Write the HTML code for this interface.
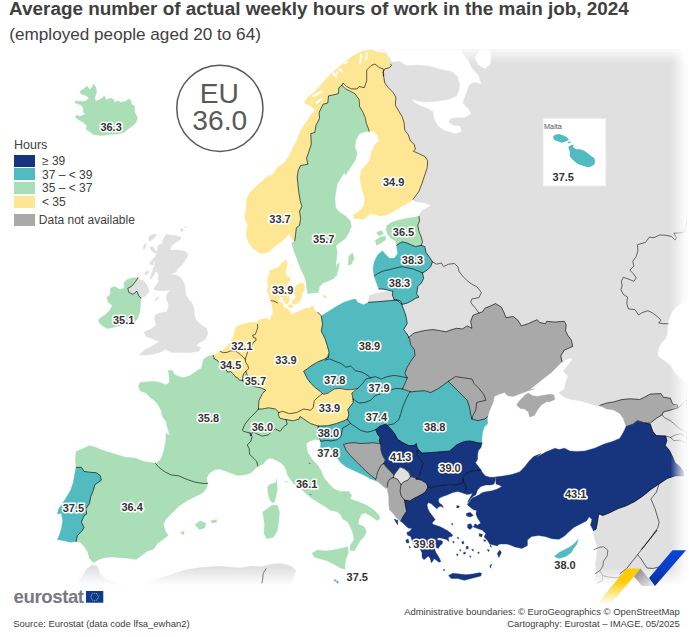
<!DOCTYPE html>
<html><head><meta charset="utf-8"><title>Map</title>
<style>
html,body{margin:0;padding:0;background:#fff;}
body{width:689px;height:637px;position:relative;overflow:hidden;font-family:"Liberation Sans",sans-serif;color:#404040;}
#map{position:absolute;left:0;top:0;width:689px;height:637px;}
.t{position:absolute;white-space:nowrap;}
#title{left:9.1px;top:-2.3px;font-size:18.9px;font-weight:bold;line-height:22px;color:#404040;}
#sub{left:9.3px;top:23.6px;font-size:17.15px;line-height:20px;color:#404040;}
.lg{position:absolute;left:14px;width:21px;height:12.2px;}
.lt{position:absolute;left:42px;font-size:12px;line-height:12px;margin-top:0.3px;color:#404040;white-space:nowrap;}
.foot{position:absolute;font-size:9.45px;line-height:11px;color:#404040;white-space:nowrap;}
svg text{font-family:"Liberation Sans",sans-serif;}
.lab{font-size:11px;font-weight:bold;fill:#333;stroke:#fff;stroke-width:3.2px;paint-order:stroke;stroke-linejoin:round;text-anchor:middle;}
</style></head><body>
<svg id="map" width="689" height="637" viewBox="0 0 689 637">
<defs>
<linearGradient id="ft" x1="0" y1="0" x2="0" y2="1"><stop offset="0" stop-color="#fff" stop-opacity="1"/><stop offset="1" stop-color="#fff" stop-opacity="0"/></linearGradient>
<linearGradient id="fb" x1="0" y1="1" x2="0" y2="0"><stop offset="0" stop-color="#fff" stop-opacity="1"/><stop offset="1" stop-color="#fff" stop-opacity="0"/></linearGradient>
<linearGradient id="fr" x1="1" y1="0" x2="0" y2="0"><stop offset="0" stop-color="#fff" stop-opacity="1"/><stop offset="1" stop-color="#fff" stop-opacity="0"/></linearGradient>
<linearGradient id="gy" x1="0" y1="0" x2="0" y2="1"><stop offset="0" stop-color="#ffcc00"/><stop offset="0.35" stop-color="#ffcc00"/><stop offset="1" stop-color="#ffcc00" stop-opacity="0"/></linearGradient>
<linearGradient id="gg" x1="0" y1="0" x2="1" y2="1"><stop offset="0" stop-color="#7d7d7d"/><stop offset="1" stop-color="#f2f2f2"/></linearGradient>
<linearGradient id="gb" x1="0" y1="0" x2="0" y2="1"><stop offset="0" stop-color="#0b44d4"/><stop offset="0.5" stop-color="#0a3ec8"/><stop offset="1" stop-color="#0a2d96"/></linearGradient>
<clipPath id="mc"><rect x="0" y="49.5" width="689" height="538"/></clipPath>
</defs>
<g clip-path="url(#mc)">
<path d="M378 40 L380 90 L390 130 L400 170 L410 195 L413.0 199.4 L415.4 201.8 L424.8 203.0 L431.4 205.3 L427.2 207.7 L421.3 211.2 L418.9 215.9 L412 225 L408 260 L400 285 L392 291 L390.7 290.6 L377.8 293.0 L369.5 295.3 L368.3 302.4 L377.8 302.9 L389.5 301.9 L398 320 L420 350 L470 345 L555 350 L562.0 361.8 L570.2 357.8 L572.6 359.5 L567.9 365.3 L563.2 371.2 L567.9 375.9 L565.5 383.0 L564.3 388.9 L559.6 392.4 L559.6 393.6 L564.3 397.2 L571.4 399.5 L579.7 400.7 L587.9 403.0 L596.2 405.4 L599.7 406.6 L635 410 L640 450 L610 500 L596 525 L593.3 530.5 L594.6 538.8 L597.4 547.0 L596.6 555.2 L595.5 563.4 L596.0 571.7 L594.6 579.9 L596.0 584.0 L596 595 L700 595 L700 40Z" fill="#e0e0e0" stroke="#e0e0e0" stroke-width="0.4" stroke-linejoin="round"/>
<path d="M380 40 L392.4 61.8 L399.7 60.9 L406.9 65.5 L417.1 64.7 L428.7 65.5 L440.3 69.0 L451.9 71.3 L457.7 76.3 L460.0 83.5 L459.2 90.8 L456.3 96.6 L449.0 99.5 L437.4 101.5 L425.8 102.4 L417.1 101.0 L412.7 99.5 L415.4 103.0 L420.1 105.4 L427.2 107.7 L433.1 111.3 L434.3 118.3 L437.8 125.4 L443.7 130.1 L448.4 131.3 L455.5 133.6 L461.3 131.3 L460.2 126.6 L453.1 125.4 L448.4 121.9 L450.7 118.3 L457.8 117.2 L464.9 117.2 L470.8 113.6 L468.4 108.9 L462.5 103.0 L463.5 99.5 L466.4 92.2 L468.8 85.0 L473.7 82.1 L480.9 83.5 L478.0 74.8 L472.2 69.0 L467.9 60.3 L462.1 53.1 L460 40Z" fill="#fff" stroke="#fff" stroke-width="0.4" stroke-linejoin="round"/>
<path d="M475.1 57.4 L478.0 64.7 L485.3 68.4 L489.7 64.7 L491.1 57.4 L489.7 50.2 L480.9 48.7Z" fill="#fff" stroke="#fff" stroke-width="0.4" stroke-linejoin="round"/>
<path d="M700 301.3 L682.2 303.7 L676.3 307.2 L671.6 313.1 L668 323.7 L668 332 L665.7 339 L661 343.7 L658.6 350.1 L658.1 355.9 L664.5 360.6 L670.4 365.3 L675.1 372.4 L682.2 379.5 L700 384.2Z" fill="#fff" stroke="#fff" stroke-width="0.4" stroke-linejoin="round"/>
<path d="M77.4 584.9 L86.7 568.9 L92.1 564.9 L97.4 566.2 L100.1 574.2 L106.8 579.6 L120.1 583.6 L136.2 584.9 L152.2 580.9 L168.2 575.6 L184.2 570.2 L200.3 567.6 L220.0 566.2 L240.0 568.0 L250.7 566.1 L261.3 566.7 L272.0 564.0 L282.7 563.5 L292.0 566.7 L296.0 570.7 L293.3 577.3 L289.3 590.7 L60 640Z" fill="#e0e0e0" stroke="#e0e0e0" stroke-width="0.4" stroke-linejoin="round"/>
<rect x="0" y="46" width="689" height="17" fill="url(#ft)"/><rect x="0" y="567.5" width="689" height="18" fill="url(#fb)"/><rect x="0" y="585" width="689" height="52" fill="#fff"/>
<path d="M166.4 234.6 L171.4 235.2 L176.5 235.8 L180.9 237.1 L180.2 239.6 L176.5 242.1 L172.7 244.6 L170.8 247.1 L170.2 250.3 L175.2 249.9 L180.2 250.3 L185.3 251.5 L188.0 253.4 L187.1 257.2 L184.6 260.9 L182.7 264.1 L180.2 266.6 L177.7 269.1 L174.0 270.4 L177.7 270.4 L175.2 272.2 L172.7 273.5 L169.6 273.5 L172.7 274.7 L177.1 275.4 L180.2 277.3 L182.7 280.4 L184.6 284.8 L185.3 289.8 L185.9 294.8 L189.0 299.9 L191.5 302.0 L194.1 308.7 L194.1 313.8 L196.1 319.9 L201.2 325.0 L206.3 328.1 L208.0 333.2 L205.3 339.3 L200.2 342.3 L196.1 345.4 L201.2 347.4 L198.2 351.5 L190.0 352.6 L181.8 352.6 L171.6 352.6 L165.5 349.5 L159.4 352.6 L149.2 355.0 L139.0 355.0 L145.1 349.5 L153.3 345.4 L159.4 341.3 L153.3 339.3 L146.1 336.2 L144.1 332.1 L151.2 329.1 L156.3 325.0 L154.3 318.9 L155.3 314.8 L160.4 312.8 L166.5 311.7 L168.6 306.6 L167.6 300.5 L167.0 302.0 L166.2 298.6 L166.4 295.5 L168.3 292.3 L170.8 290.4 L167.7 290.4 L163.9 290.4 L160.1 291.1 L157.0 290.4 L153.9 289.2 L154.5 287.3 L157.0 284.2 L158.9 281.0 L157.6 278.5 L158.9 276.0 L158.3 273.5 L155.7 271.6 L154.5 274.1 L152.6 277.3 L150.1 279.8 L150.7 276.0 L152.0 272.2 L153.2 269.1 L154.5 265.3 L155.1 262.2 L151.4 260.9 L152.6 259.0 L155.1 257.2 L156.4 254.0 L157.0 250.9 L157.6 247.1 L158.9 244.6 L162.0 244.0 L162.7 240.8 L163.9 237.7Z" fill="#e0e0e0" stroke="#e0e0e0" stroke-width="0.4" stroke-linejoin="round"/>
<path d="M148.8 237.1 L151.4 234.6 L155.7 233.9 L156.4 235.8 L153.2 239.0 L150.1 241.5 L148.6 240.2Z" fill="#e0e0e0" stroke="#e0e0e0" stroke-width="0.4" stroke-linejoin="round"/>
<path d="M143.8 244.6 L146.3 243.4 L145.7 247.1 L143.8 250.3 L143.2 249.0Z" fill="#e0e0e0" stroke="#e0e0e0" stroke-width="0.4" stroke-linejoin="round"/>
<path d="M149.5 247.1 L152.6 246.5 L154.5 249.0 L156.4 251.5 L155.1 253.4 L153.2 252.1 L151.4 250.3Z" fill="#e0e0e0" stroke="#e0e0e0" stroke-width="0.4" stroke-linejoin="round"/>
<path d="M149.5 262.2 L152.0 260.9 L153.9 262.8 L153.2 265.3 L150.1 264.7Z" fill="#e0e0e0" stroke="#e0e0e0" stroke-width="0.4" stroke-linejoin="round"/>
<path d="M144.4 272.9 L147.6 271.0 L149.5 271.6 L147.6 274.1 L145.7 275.4Z" fill="#e0e0e0" stroke="#e0e0e0" stroke-width="0.4" stroke-linejoin="round"/>
<path d="M180.2 230.2 L182.1 228.3 L183.4 229.5 L182.1 232.0Z" fill="#e0e0e0" stroke="#e0e0e0" stroke-width="0.4" stroke-linejoin="round"/>
<path d="M184.6 227.0 L186.5 226.4 L185.9 228.3Z" fill="#e0e0e0" stroke="#e0e0e0" stroke-width="0.4" stroke-linejoin="round"/>
<path d="M154.5 299.9 L158.3 296.7 L158.9 298.0 L156.4 300.5Z" fill="#e0e0e0" stroke="#e0e0e0" stroke-width="0.4" stroke-linejoin="round"/>
<path d="M138.0 277.7 L135.9 281.1 L131.8 286.2 L127.8 288.3 L128.8 292.3 L132.9 294.4 L136.9 291.3 L139.0 296.4 L141.0 298.1 L146.1 295.4 L149.2 291.3 L147.1 285.2 L144.1 281.1 L140.0 279.7Z" fill="#e0e0e0" stroke="#e0e0e0" stroke-width="0.4" stroke-linejoin="round"/>
<path d="M138.0 277.7 L135.9 281.1 L131.8 286.2 L127.8 288.3 L128.8 292.3 L132.9 294.4 L136.9 291.3 L139.0 296.4 L141.0 298.1 L140.6 303.6 L140.0 310.7 L138.0 317.9 L133.9 323.0 L127.8 325.0 L120.6 325.4 L114.5 327.0 L107.3 328.7 L101.2 325.0 L98.2 320.9 L100.2 317.9 L105.3 314.8 L109.4 310.7 L112.4 305.6 L108.4 302.6 L106.7 297.4 L110.4 294.4 L110.4 288.3 L114.5 286.6 L119.6 289.3 L124.7 288.3 L123.7 283.2 L126.7 279.7 L131.8 278.1Z" fill="#a9deb6" stroke="#a9deb6" stroke-width="0.4" stroke-linejoin="round"/>
<path d="M80.3 91.0 L83.9 88.9 L86.9 85.7 L89.8 89.6 L91.9 87.4 L93.7 84.1 L96.0 87.4 L96.6 92.5 L94.8 97.6 L95.6 101.2 L99.2 99.8 L102.1 98.3 L104.3 95.8 L106.4 99.8 L110.8 98.0 L113.7 99.8 L114.9 102.7 L117.3 100.8 L121.0 102.2 L125.3 101.6 L128.9 99.0 L131.1 100.8 L131.4 104.1 L134.7 106.3 L134.7 112.1 L137.6 117.9 L136.2 122.2 L132.6 125.9 L128.2 128.8 L123.9 132.4 L118.1 133.9 L109.3 134.6 L100.6 135.6 L93.4 134.6 L89.0 131.0 L86.1 129.5 L86.9 125.9 L83.2 122.2 L78.9 120.1 L75.2 117.2 L76.7 115.0 L79.6 116.4 L85.4 114.3 L83.2 112.1 L83.2 107.7 L80.3 104.8 L75.2 103.1 L75.2 100.9 L79.6 101.2 L85.4 101.2 L89.0 98.3 L86.9 96.1 L83.2 94.7 L80.3 93.2Z" fill="#a9deb6" stroke="#a9deb6" stroke-width="0.4" stroke-linejoin="round"/>
<path d="M390.7 64.1 L388.3 59.4 L385.9 53.5 L377.7 52.4 L373.0 50.0 L370.6 45.3 L369.0 45.3 L369.0 50.0 L362.0 51.2 L354.9 54.7 L346.6 60.6 L339.6 66.5 L332.5 72.4 L326.6 78.3 L320.7 85.3 L313.6 92.4 L307.8 97.1 L304.2 103.0 L310.1 105.4 L314.8 108.9 L311.3 114.8 L305.4 123.0 L300.7 130.1 L297.2 139.5 L293.6 146.6 L288.9 156.0 L284.2 163.1 L277.1 167.8 L273.6 173.7 L267.7 177.2 L268.9 174.7 L263.0 180.6 L255.9 186.5 L250.0 192.4 L246.5 199.5 L246.0 208.9 L244.6 217.1 L247.7 225.4 L246.0 234.8 L248.9 243.0 L253.6 248.9 L260.6 253.6 L267.7 252.5 L273.6 247.8 L279.5 243.0 L285.4 238.3 L288.9 233.6 L292.4 239.5 L294.8 240.7 L295.5 234.8 L296.4 227.7 L299.5 225.4 L300.7 218.3 L299.5 211.2 L301.9 206.5 L300.2 200.6 L298.8 192.4 L297.9 184.1 L297.2 177.1 L298.3 170.2 L300.7 165.5 L307.8 164.3 L306.6 158.4 L308.9 151.3 L311.3 144.3 L310.8 133.6 L314.8 132.5 L316.0 125.4 L319.5 118.3 L319.1 112.4 L323.1 104.2 L327.8 103.0 L328.5 95.9 L333.7 94.8 L338.4 93.6 L338.9 87.7 L341.9 85.3 L343.1 83.0 L346.6 86.5 L351.3 88.9 L357.2 88.9 L359.1 86.5 L364.3 87.7 L366.7 80.6 L366.7 70.0 L371.4 65.3 L374.9 64.1 L379.6 67.7 L383.2 68.9 L383.6 73.6 L383.6 75.9 L382.9 72.4 L384.8 68.9 L389.5 67.7 L391.4 65.3 L390.7 64.1Z" fill="#fee794" stroke="#fee794" stroke-width="0.4" stroke-linejoin="round"/>
<path d="M359.4 64.3 L360.2 54.5 L361.8 53.8 L360.8 62.5Z" fill="#fff" stroke="#fff" stroke-width="0.4" stroke-linejoin="round"/>
<path d="M365.2 60.3 L366.1 53.1 L367.6 52.6 L366.6 59.6Z" fill="#fff" stroke="#fff" stroke-width="0.4" stroke-linejoin="round"/>
<path d="M332.1 73.4 L336.2 78.2 L337.9 71.9 L336.7 71.2 L335.7 74.9 L333.5 71.9Z" fill="#fff" stroke="#fff" stroke-width="0.4" stroke-linejoin="round"/>
<path d="M338.6 69.8 L342.2 72.7 L343.0 71.2 L340.1 68.3Z" fill="#fff" stroke="#fff" stroke-width="0.4" stroke-linejoin="round"/>
<path d="M311.8 95.9 L321.2 90.8 L323.4 91.5 L313.9 97.3Z" fill="#fff" stroke="#fff" stroke-width="0.4" stroke-linejoin="round"/>
<path d="M315.4 102.4 L321.2 98.1 L322.7 99.1 L316.9 103.9Z" fill="#fff" stroke="#fff" stroke-width="0.4" stroke-linejoin="round"/>
<path d="M343.7 63.2 L347.3 61.1 L348.1 62.2 L344.9 64.3Z" fill="#fff" stroke="#fff" stroke-width="0.4" stroke-linejoin="round"/>
<path d="M308.9 113.3 L313.2 109.7 L314.4 110.4 L310.3 114.5Z" fill="#fff" stroke="#fff" stroke-width="0.4" stroke-linejoin="round"/>
<path d="M294.8 240.7 L291.7 243.0 L293.6 250.1 L297.2 259.5 L300.7 269.0 L304.2 276.0 L305.9 280.7 L306.6 287.8 L307.8 293.7 L312.5 293.0 L318.4 292.5 L319.5 286.6 L323.1 283.1 L329.0 280.7 L333.7 278.4 L336.5 271.3 L336.0 263.1 L337.2 252.5 L336.0 245.4 L340.7 241.9 L345.5 238.3 L349.0 232.4 L351.3 226.6 L350.2 220.7 L345.5 215.9 L339.6 212.4 L335.6 207.7 L334.9 198.3 L336.0 191.2 L337.2 184.1 L340.7 178.2 L344.3 172.4 L345.5 174.9 L350.2 167.8 L354.9 160.7 L357.2 153.7 L354.9 146.6 L356.1 139.5 L359.6 133.6 L364.3 132.0 L369.0 131.3 L369.0 130.1 L366.2 123.0 L365.5 118.3 L363.1 112.4 L359.6 106.6 L359.1 99.5 L354.9 93.6 L350.2 91.2 L345.5 88.9 L341.9 85.3 L338.9 87.7 L338.4 93.6 L333.7 94.8 L328.5 95.9 L327.8 103.0 L323.1 104.2 L319.1 112.4 L319.5 118.3 L316.0 125.4 L314.8 132.5 L310.8 133.6 L311.3 144.3 L308.9 151.3 L306.6 158.4 L307.8 164.3 L300.7 165.5 L298.3 170.2 L297.2 177.1 L297.9 184.1 L298.8 192.4 L300.2 200.6 L301.9 206.5 L299.5 211.2 L300.7 218.3 L299.5 225.4 L296.4 227.7 L295.5 234.8 L294.8 240.7Z" fill="#a9deb6" stroke="#a9deb6" stroke-width="0.4" stroke-linejoin="round"/>
<path d="M337.2 264.3 L339.6 263.1 L336.5 276.0 L334.9 277.2Z" fill="#a9deb6" stroke="#a9deb6" stroke-width="0.4" stroke-linejoin="round"/>
<path d="M349.0 256.0 L352.5 252.9 L354.2 258.4 L351.3 264.3 L348.3 265.4Z" fill="#a9deb6" stroke="#a9deb6" stroke-width="0.4" stroke-linejoin="round"/>
<path d="M341.9 85.3 L345.5 88.9 L350.2 91.2 L354.9 93.6 L359.1 99.5 L359.6 106.6 L363.1 112.4 L365.5 118.3 L366.2 123.0 L369.0 130.1 L369.0 131.3 L369.5 131.3 L374.2 131.3 L377.7 136.0 L378.9 140.7 L375.3 144.3 L371.8 151.3 L369.5 160.7 L364.7 166.6 L361.2 170.2 L360.0 178.4 L361.2 186.7 L363.6 194.9 L363.6 190.0 L364.7 199.4 L363.6 206.5 L357.7 212.4 L353.0 214.7 L354.1 218.3 L363.6 219.5 L370.6 213.6 L380.1 215.9 L387.1 214.7 L394.2 211.2 L401.3 206.5 L408.3 203.0 L413.0 199.4 L418.9 191.4 L422.5 182.0 L424.8 174.9 L427.2 167.8 L427.7 160.7 L424.8 156.5 L418.9 153.7 L413.5 151.3 L415.4 149.0 L414.2 144.3 L410.2 140.7 L408.3 134.8 L404.8 130.1 L404.1 123.0 L402.4 117.2 L398.9 111.3 L395.4 105.4 L395.8 97.1 L393.0 92.4 L388.3 87.7 L384.8 83.0 L383.6 75.9 L383.6 75.9 L383.6 73.6 L383.2 68.9 L379.6 67.7 L374.9 64.1 L371.4 65.3 L366.7 70.0 L366.7 80.6 L364.3 87.7 L359.1 86.5 L357.2 88.9 L351.3 88.9 L346.6 86.5 L343.1 83.0Z" fill="#fee794" stroke="#fee794" stroke-width="0.4" stroke-linejoin="round"/>
<path d="M286.7 259.9 L283.2 261.6 L280.3 265.1 L277.4 268.0 L272.8 269.2 L269.9 270.3 L269.3 275.0 L268.1 276.7 L267.5 281.3 L268.1 287.2 L267.0 290.6 L268.7 295.3 L269.9 299.3 L271.0 300.7 L273.9 301.1 L277.4 302.8 L278.6 299.3 L279.7 296.4 L282.6 297.6 L285.0 295.3 L286.1 289.5 L286.7 284.8 L287.9 282.5 L290.4 280.8 L290.2 277.9 L287.3 276.7 L285.5 273.2 L286.1 268.6 L287.3 263.9Z" fill="#fee794" stroke="#fee794" stroke-width="0.4" stroke-linejoin="round"/>
<path d="M283.2 295.9 L286.1 294.7 L289.0 295.9 L289.6 299.3 L288.4 302.8 L286.7 304.6 L284.4 302.2 L282.6 299.3Z" fill="#fee794" stroke="#fee794" stroke-width="0.4" stroke-linejoin="round"/>
<path d="M294.8 287.2 L297.2 284.8 L300.6 283.1 L303.5 283.7 L304.7 287.2 L304.1 290.6 L302.4 293.0 L301.8 296.4 L300.6 299.9 L298.3 302.8 L294.8 304.6 L292.5 303.4 L291.9 301.1 L294.8 299.3 L296.0 296.4 L294.3 294.1 L293.7 290.6Z" fill="#fee794" stroke="#fee794" stroke-width="0.4" stroke-linejoin="round"/>
<path d="M287.9 305.7 L291.3 304.6 L293.7 306.3 L291.3 308.1 L288.4 307.5Z" fill="#fee794" stroke="#fee794" stroke-width="0.4" stroke-linejoin="round"/>
<path d="M323.3 294.7 L325.0 295.3 L326.8 297.0 L325.6 298.2 L323.6 297.0Z" fill="#fee794" stroke="#fee794" stroke-width="0.4" stroke-linejoin="round"/>
<path d="M290.4 265.1 L291.6 264.9 L291.3 266.3Z" fill="#fee794" stroke="#fee794" stroke-width="0.4" stroke-linejoin="round"/>
<path d="M387.1 225.3 L393.0 221.8 L401.3 219.5 L410.7 217.8 L418.9 216.4 L419.6 220.6 L417.8 225.3 L418.9 231.2 L421.3 237.1 L422.5 241.8 L421.3 245.4 L415.4 246.6 L410.7 244.7 L407.2 243.0 L402.4 241.8 L398.9 243.7 L396.6 245.4 L395.4 240.7 L390.7 238.3 L387.1 233.6 L385.9 228.9Z" fill="#a9deb6" stroke="#a9deb6" stroke-width="0.4" stroke-linejoin="round"/>
<path d="M376.5 232.4 L381.2 230.5 L383.6 233.6 L378.9 235.9Z" fill="#a9deb6" stroke="#a9deb6" stroke-width="0.4" stroke-linejoin="round"/>
<path d="M375.3 240.7 L380.1 237.1 L385.2 235.9 L385.9 239.5 L381.2 243.0 L376.5 245.4Z" fill="#a9deb6" stroke="#a9deb6" stroke-width="0.4" stroke-linejoin="round"/>
<path d="M396.6 245.4 L398.9 243.7 L402.4 241.8 L407.2 243.0 L410.7 244.7 L415.4 246.6 L421.3 245.4 L424.8 246.6 L426.0 252.4 L429.5 257.2 L432.4 261.9 L430.7 266.6 L427.2 270.1 L422.5 272.9 L418.9 271.3 L413.0 268.9 L407.2 267.8 L402.4 266.6 L396.6 267.8 L389.5 269.6 L382.4 271.3 L377.7 273.6 L374.2 276.0 L373.0 268.9 L374.2 261.9 L377.7 254.8 L382.4 250.8 L385.9 254.8 L389.5 258.3 L394.2 258.3 L397.7 253.6 L397.0 248.9Z" fill="#51bbc0" stroke="#51bbc0" stroke-width="0.4" stroke-linejoin="round"/>
<path d="M374.2 276.0 L377.7 273.6 L382.4 271.3 L389.5 269.6 L396.6 267.8 L402.4 266.6 L407.2 267.8 L413.0 268.9 L418.9 271.3 L422.5 272.9 L423.6 278.4 L421.3 283.1 L417.8 286.6 L416.6 293.7 L418.9 297.2 L415.4 298.4 L411.9 300.7 L407.2 303.1 L402.4 304.3 L400.1 300.7 L394.2 299.6 L392.3 294.9 L393.0 291.3 L388.3 290.1 L382.4 289.0 L378.9 289.0 L376.5 283.1Z" fill="#51bbc0" stroke="#51bbc0" stroke-width="0.4" stroke-linejoin="round"/>
<path d="M257.5 324.4 L258.4 320.0 L260.1 319.5 L266.0 318.3 L270.7 320.6 L270.4 317.3 L272.2 315.0 L272.8 310.4 L271.6 304.6 L271.0 300.7 L273.9 301.1 L277.4 302.8 L280.3 301.7 L283.2 303.4 L283.2 306.9 L286.7 308.6 L290.2 311.5 L291.3 314.4 L296.0 312.7 L300.6 310.4 L305.3 308.6 L309.9 308.1 L311.7 305.7 L314.0 306.9 L314.6 310.4 L317.8 312.4 L321.3 315.9 L322.5 324.2 L321.3 331.2 L324.9 338.3 L327.2 345.4 L329.1 352.4 L328.4 357.2 L323.7 359.5 L317.8 361.9 L311.9 365.4 L307.2 368.9 L303.7 371.3 L307.2 378.4 L310.7 383.1 L315.5 387.8 L320.2 391.3 L322.5 393.7 L317.8 397.2 L314.3 400.7 L313.1 407.8 L310.7 410.2 L303.7 409.0 L296.6 412.5 L289.5 413.7 L282.5 411.3 L278.9 412.5 L275.4 409.0 L268.3 407.8 L262.4 409.0 L258.4 409.0 L258.9 400.7 L262.4 393.7 L265.7 390.0 L260.3 387.8 L254.6 386.6 L248.3 384.7 L249.2 381.6 L249.0 377.8 L247.1 374.7 L245.8 371.5 L247.1 370.3 L248.7 368.4 L247.7 365.2 L245.8 362.7 L245.2 359.0 L246.4 355.8 L247.4 352.7 L248.3 350.2 L252.1 345.1 L253.4 342.0 L255.9 340.7 L255.9 338.2 L253.4 337.6 L252.7 335.1 L255.2 334.5 L256.5 331.3 L257.7 327.6 L257.5 324.4Z" fill="#fee794" stroke="#fee794" stroke-width="0.4" stroke-linejoin="round"/>
<path d="M220.1 351.4 L223.8 349.5 L226.4 346.4 L229.5 343.3 L233.3 336.4 L235.1 330.1 L237.0 326.3 L241.4 324.4 L246.4 323.2 L252.1 321.9 L256.5 322.5 L257.5 324.4 L257.7 327.6 L256.5 331.3 L255.2 334.5 L252.7 335.1 L253.4 337.6 L255.9 338.2 L255.9 340.7 L253.4 342.0 L252.1 345.1 L248.3 350.2 L247.4 352.7 L246.4 355.8 L245.2 359.0 L243.3 357.1 L240.8 355.2 L238.3 352.7 L235.8 351.2 L230.7 350.8 L227.0 352.4 L223.2 352.7 L220.1 351.4Z" fill="#fee794" stroke="#fee794" stroke-width="0.4" stroke-linejoin="round"/>
<path d="M213.2 355.2 L216.9 353.3 L220.1 351.4 L223.2 352.7 L227.0 352.4 L230.7 350.8 L235.8 351.2 L238.3 352.7 L240.8 355.2 L243.3 357.1 L245.2 359.0 L245.8 362.7 L247.7 365.2 L248.7 368.4 L247.1 370.3 L245.8 371.5 L243.9 373.4 L242.7 376.5 L242.7 380.3 L239.5 380.3 L238.3 378.4 L235.1 376.5 L233.3 374.0 L230.7 371.5 L227.6 372.1 L225.7 369.0 L222.6 366.5 L219.4 363.4 L217.6 360.5 L214.4 359.0 L213.2 355.2Z" fill="#fee794" stroke="#fee794" stroke-width="0.4" stroke-linejoin="round"/>
<path d="M242.7 380.3 L242.7 376.5 L243.9 373.4 L245.8 371.5 L247.1 374.7 L249.0 377.8 L249.2 381.6 L248.3 384.7 L245.8 383.8 L243.3 382.2 L242.7 380.3Z" fill="#a9deb6" stroke="#a9deb6" stroke-width="0.4" stroke-linejoin="round"/>
<path d="M368.3 302.4 L363.6 304.7 L357.7 302.4 L355.4 298.9 L350.7 300.0 L343.6 302.4 L335.3 307.1 L325.9 313.0 L321.3 315.9 L322.5 324.2 L321.3 331.2 L324.9 338.3 L327.2 345.4 L329.1 352.4 L324.7 360.1 L329.5 358.9 L335.3 361.3 L341.2 363.6 L345.9 367.2 L350.7 366.0 L355.4 370.7 L361.3 371.9 L366.0 374.3 L370.7 377.8 L375.4 376.6 L381.3 379.0 L387.2 376.6 L394.3 375.4 L401.3 376.6 L407.2 377.8 L404.9 373.1 L407.2 367.2 L410.7 361.3 L415.0 355.4 L414.3 349.5 L410.7 344.8 L409.6 338.9 L407.2 334.2 L403.7 329.5 L407.2 323.6 L406.0 316.5 L403.7 309.5 L401.3 303.6 L396.6 300.0 L389.5 300.7 L377.8 301.7 L368.3 302.4Z" fill="#51bbc0" stroke="#51bbc0" stroke-width="0.4" stroke-linejoin="round"/>
<path d="M324.7 360.1 L329.5 358.9 L335.3 361.3 L341.2 363.6 L345.9 367.2 L350.7 366.0 L355.4 370.7 L361.3 371.9 L366.0 374.3 L370.7 377.8 L366.0 379.0 L362.4 383.7 L357.7 388.4 L351.8 389.6 L345.9 389.6 L340.1 388.4 L334.2 388.9 L328.3 393.1 L323.6 394.3 L320.2 391.3 L315.5 387.8 L310.7 383.1 L307.2 378.4 L303.7 371.3 L307.2 368.9 L311.9 365.4 L317.8 361.9 L323.7 359.5Z" fill="#51bbc0" stroke="#51bbc0" stroke-width="0.4" stroke-linejoin="round"/>
<path d="M370.7 377.8 L375.4 376.6 L381.3 379.0 L387.2 376.6 L394.3 375.4 L401.3 376.6 L407.2 377.8 L404.9 383.7 L402.5 388.9 L395.4 388.4 L389.5 390.7 L382.5 393.1 L375.4 395.5 L370.7 400.2 L364.8 402.5 L358.9 403.0 L353.0 399.0 L351.8 393.1 L357.7 388.4 L362.4 383.7 L366.0 379.0 L370.7 377.8Z" fill="#51bbc0" stroke="#51bbc0" stroke-width="0.4" stroke-linejoin="round"/>
<path d="M323.6 394.3 L328.3 393.1 L334.2 388.9 L340.1 388.4 L345.9 389.6 L351.8 389.6 L357.7 388.4 L351.8 393.1 L353.0 399.0 L353.1 402.6 L350.5 406.1 L347.9 409.6 L348.8 414.8 L347.4 419.2 L343.5 420.9 L336.6 423.5 L327.9 425.8 L318.3 426.1 L310.4 423.5 L305.2 420.0 L300.0 416.5 L299.0 419.1 L293.1 420.8 L286.0 419.6 L280.1 418.4 L278.2 414.9 L278.9 412.5 L282.5 411.3 L289.5 413.7 L296.6 412.5 L303.7 409.0 L310.7 410.2 L313.1 407.8 L314.3 400.7 L317.8 397.2 L322.5 393.7Z" fill="#fee794" stroke="#fee794" stroke-width="0.4" stroke-linejoin="round"/>
<path d="M258.4 409.0 L262.4 409.0 L268.3 407.8 L275.4 409.0 L278.9 412.5 L278.2 414.9 L280.1 418.4 L286.0 419.6 L287.2 424.3 L283.6 426.7 L280.1 431.4 L275.4 429.0 L271.9 431.4 L268.3 434.9 L262.4 436.1 L256.6 433.7 L253.0 431.4 L250.7 436.1 L250.1 433.1 L243.8 431.4 L242.4 430.2 L244.8 424.3 L249.5 418.4 L255.4 412.5 L258.4 409.0Z" fill="#a9deb6" stroke="#a9deb6" stroke-width="0.4" stroke-linejoin="round"/>
<path d="M402.5 388.9 L395.4 388.4 L389.5 390.7 L382.5 393.1 L375.4 395.5 L370.7 400.2 L364.8 402.5 L358.9 403.0 L353.0 399.0 L353.1 402.6 L350.5 406.1 L347.9 409.6 L348.8 414.8 L347.4 419.2 L350.5 423.5 L355.7 427.0 L361.0 430.5 L367.0 432.2 L371.4 431.3 L375.8 429.6 L380.1 426.1 L385.3 424.4 L387.1 425.3 L393.7 423.9 L398.8 419.8 L400.8 413.7 L402.9 406.5 L405.9 399.4 L410.0 391.8 L410.7 391.9Z" fill="#51bbc0" stroke="#51bbc0" stroke-width="0.4" stroke-linejoin="round"/>
<path d="M347.4 419.2 L343.5 420.9 L336.6 423.5 L327.9 425.8 L318.3 426.1 L317.4 430.5 L318.8 434.8 L320.0 439.2 L320.9 441.4 L326.1 440.4 L331.3 440.9 L337.4 439.7 L340.9 436.6 L341.8 432.2 L342.7 427.9 L346.2 426.1 L350.5 423.5 L347.4 419.2Z" fill="#51bbc0" stroke="#51bbc0" stroke-width="0.4" stroke-linejoin="round"/>
<path d="M350.5 423.5 L355.7 427.0 L361.0 430.5 L367.0 432.2 L371.4 431.3 L375.8 429.6 L377.5 434.0 L380.1 437.4 L379.2 440.9 L380.5 443.5 L378.4 443.5 L373.1 442.7 L367.9 443.2 L361.0 443.5 L354.0 442.7 L347.9 443.2 L343.5 444.4 L346.2 450.5 L350.5 455.7 L355.7 461.0 L361.0 466.2 L366.2 471.4 L371.4 475.8 L375.8 479.2 L376.6 481.2 L373.1 479.8 L369.7 478.4 L365.3 475.8 L359.2 473.1 L352.2 469.7 L346.2 467.0 L340.9 462.7 L337.4 458.3 L334.8 454.0 L331.3 449.6 L328.7 446.2 L326.1 447.9 L323.5 451.4 L321.8 453.1 L320.0 448.8 L320.6 444.9 L320.9 441.4 L326.1 440.4 L331.3 440.9 L337.4 439.7 L340.9 436.6 L341.8 432.2 L342.7 427.9 L346.2 426.1Z" fill="#51bbc0" stroke="#51bbc0" stroke-width="0.4" stroke-linejoin="round"/>
<path d="M213.1 355.3 L208.4 356.0 L203.6 358.9 L202.5 363.6 L201.3 368.3 L195.4 371.8 L190.7 375.3 L183.6 377.7 L178.9 376.5 L174.2 374.2 L172.3 370.6 L168.3 370.2 L169.0 375.3 L169.5 382.4 L165.9 384.8 L160.1 382.4 L153.0 381.2 L145.9 381.9 L140.0 382.4 L138.4 385.9 L140.0 390.7 L145.9 393.0 L150.6 397.7 L155.3 401.3 L158.9 406.0 L161.2 410.7 L162.4 416.6 L165.9 421.3 L167.1 426.0 L168.3 430.7 L169.5 435.4 L165.9 433.1 L165.9 440.1 L164.3 448.4 L162.4 455.5 L160.1 460.2 L155.3 463.7 L158.9 467.4 L164.2 471.4 L170.9 474.9 L178.9 475.9 L186.9 479.4 L194.9 482.1 L202.9 483.4 L207.5 483.4 L206.7 477.8 L209.5 473.1 L214.3 470.1 L219.0 469.1 L224.9 470.8 L230.7 473.1 L237.8 475.5 L244.9 474.8 L250.8 473.1 L255.5 468.4 L257.8 466.1 L256.7 461.3 L253.1 457.8 L249.6 454.3 L249.1 448.4 L247.2 444.9 L250.8 441.3 L252.0 436.6 L250.1 433.1 L258.4 409.0 L255.4 412.5 L249.5 418.4 L244.8 424.3 L242.4 430.2 L243.8 431.4 L258.4 409.0 L258.9 400.7 L262.4 393.7 L265.7 390.0 L260.3 387.8 L254.6 386.6 L248.3 384.7 L245.8 383.8 L243.3 382.2 L242.7 380.3 L239.5 380.3 L238.3 378.4 L235.1 376.5 L233.3 374.0 L230.7 371.5 L227.6 372.1 L225.7 369.0 L222.6 366.5 L219.4 363.4 L217.6 360.5 L214.4 359.0 L213.2 355.2Z" fill="#a9deb6" stroke="#a9deb6" stroke-width="0.4" stroke-linejoin="round"/>
<path d="M267.6 487.1 L269.5 484.6 L273.2 483.3 L275.7 482.7 L276.4 478.9 L277.0 483.3 L277.4 488.4 L276.6 493.4 L275.7 497.8 L274.5 502.2 L272.6 502.8 L270.1 500.3 L268.8 496.5 L267.8 492.1Z" fill="#a9deb6" stroke="#a9deb6" stroke-width="0.4" stroke-linejoin="round"/>
<path d="M285.2 481.4 L287.4 481.2 L287.0 482.4Z" fill="#a9deb6" stroke="#a9deb6" stroke-width="0.4" stroke-linejoin="round"/>
<path d="M76.1 467.4 L75.3 459.4 L76.1 451.4 L82.7 448.7 L89.4 445.5 L96.1 447.4 L104.1 450.8 L114.8 454.0 L125.5 457.2 L134.8 458.0 L144.2 461.5 L152.2 462.6 L155.4 463.4 L158.9 467.4 L164.2 471.4 L170.9 474.9 L178.9 475.9 L186.9 479.4 L194.9 482.1 L202.9 483.4 L207.5 483.4 L206.9 487.4 L202.9 492.8 L194.9 496.8 L186.9 500.8 L178.9 506.1 L172.2 512.8 L165.5 519.5 L163.4 524.8 L165.5 531.5 L168.2 535.5 L162.9 539.5 L157.5 543.5 L153.5 548.9 L146.8 551.5 L141.5 555.5 L136.2 559.5 L128.1 558.2 L120.1 557.7 L112.1 556.9 L104.1 557.7 L98.8 559.5 L93.4 562.7 L89.4 558.2 L87.5 551.5 L84.1 546.2 L80.1 542.2 L76.1 541.6 L77.4 535.5 L81.4 531.5 L84.1 527.5 L81.4 522.1 L84.1 515.5 L86.7 514.1 L85.9 508.8 L89.4 503.5 L90.7 496.8 L93.4 490.1 L94.8 484.8 L101.4 480.2 L100.1 475.4 L96.1 472.7 L89.4 472.2 L84.1 471.4 L81.4 467.4 L76.1 467.4Z" fill="#a9deb6" stroke="#a9deb6" stroke-width="0.4" stroke-linejoin="round"/>
<path d="M194.9 524.8 L200.3 520.8 L206.1 523.5 L204.3 528.3 L199.7 529.4Z" fill="#a9deb6" stroke="#a9deb6" stroke-width="0.4" stroke-linejoin="round"/>
<path d="M210.9 520.8 L216.3 519.5 L216.8 522.1 L212.3 522.9Z" fill="#a9deb6" stroke="#a9deb6" stroke-width="0.4" stroke-linejoin="round"/>
<path d="M180.2 532.8 L184.2 531.0 L183.7 534.7Z" fill="#a9deb6" stroke="#a9deb6" stroke-width="0.4" stroke-linejoin="round"/>
<path d="M76.1 541.6 L77.4 535.5 L81.4 531.5 L84.1 527.5 L81.4 522.1 L84.1 515.5 L86.7 514.1 L85.9 508.8 L89.4 503.5 L90.7 496.8 L93.4 490.1 L94.8 484.8 L101.4 480.2 L100.1 475.4 L96.1 472.7 L89.4 472.2 L84.1 471.4 L81.4 467.4 L76.1 467.4 L74.7 474.1 L73.4 482.1 L70.7 490.1 L66.7 496.8 L62.7 503.5 L58.7 508.8 L57.4 514.1 L61.4 513.3 L62.7 520.8 L61.4 528.8 L59.2 535.5 L57.4 539.5 L64.0 540.8 L70.7 542.2Z" fill="#51bbc0" stroke="#51bbc0" stroke-width="0.4" stroke-linejoin="round"/>
<path d="M257.8 466.1 L256.7 461.3 L253.1 457.8 L249.6 454.3 L249.1 448.4 L247.2 444.9 L250.8 441.3 L252.0 436.6 L250.1 433.1 L250.7 436.1 L253.0 431.4 L256.6 433.7 L262.4 436.1 L268.3 434.9 L271.9 431.4 L275.4 429.0 L280.1 431.4 L283.6 426.7 L287.2 424.3 L286.0 419.6 L293.1 420.8 L299.0 419.1 L300.0 416.5 L305.2 420.0 L310.4 423.5 L318.3 426.1 L317.4 430.5 L318.8 434.8 L320.0 439.2 L320.9 441.4 L319.5 440.4 L315.7 439.2 L310.4 440.9 L306.1 443.5 L306.4 445.1 L307.6 452.6 L312.6 460.1 L317.7 465.1 L321.4 471.4 L323.9 477.7 L329.0 484.0 L334.0 489.0 L340.3 491.5 L349.0 491.5 L351.6 495.3 L350.3 499.0 L357.8 501.6 L366.6 505.3 L374.2 510.3 L379.2 515.4 L379.9 519.1 L376.7 520.4 L371.6 516.6 L365.4 512.9 L361.6 514.1 L359.1 519.1 L358.3 524.2 L364.1 526.7 L366.6 531.7 L364.1 536.7 L360.3 540.5 L356.6 546.7 L354.1 551.0 L349.8 550.0 L350.3 545.5 L354.1 539.2 L352.8 532.9 L350.3 526.7 L347.3 521.6 L342.8 519.1 L340.3 514.1 L336.5 511.6 L330.2 510.3 L325.2 506.6 L318.9 502.8 L312.6 499.0 L306.4 494.0 L301.3 489.0 L296.5 485.8 L293.3 483.3 L290.2 478.9 L287.7 475.2 L286.4 470.8 L284.5 466.4 L281.4 463.2 L277.0 460.7 L273.2 458.8 L269.5 458.2 L266.3 460.1 L263.2 463.9 L259.4 465.7 L255.7 467.0Z" fill="#a9deb6" stroke="#a9deb6" stroke-width="0.4" stroke-linejoin="round"/>
<path d="M312.1 553.0 L317.7 550.0 L325.2 551.0 L332.7 550.0 L340.3 548.5 L347.8 546.7 L348.3 553.0 L345.8 559.3 L344.8 565.6 L345.3 569.3 L340.3 568.1 L334.0 564.3 L326.4 560.6 L318.9 558.5 L313.9 556.8Z" fill="#a9deb6" stroke="#a9deb6" stroke-width="0.4" stroke-linejoin="round"/>
<path d="M262.7 512.0 L266.7 509.3 L272.0 505.3 L277.3 505.3 L279.5 512.0 L278.7 521.3 L277.3 530.7 L273.3 537.3 L266.7 538.7 L264.0 533.3 L264.5 524.0 L263.5 517.3Z" fill="#a9deb6" stroke="#a9deb6" stroke-width="0.4" stroke-linejoin="round"/>
<path d="M333.7 580.1 L335.2 579.4 L336.5 580.6 L335.0 581.4Z" fill="#51bbc0" stroke="#51bbc0" stroke-width="0.4" stroke-linejoin="round"/>
<path d="M336.2 581.4 L338.0 581.1 L338.7 582.6 L337.2 583.4Z" fill="#51bbc0" stroke="#51bbc0" stroke-width="0.4" stroke-linejoin="round"/>
<path d="M408.2 337.7 L414.1 333.0 L423.6 330.7 L433.0 329.5 L440.1 330.7 L445.9 331.8 L450.7 330.0 L456.6 328.3 L462.4 329.0 L467.2 325.9 L471.9 328.3 L470.7 321.2 L473.0 315.3 L478.9 313.0 L482.5 311.8 L484.8 308.3 L490.7 305.9 L495.4 303.6 L501.3 307.1 L503.7 311.8 L506.0 317.7 L513.1 316.5 L517.8 320.1 L521.3 325.9 L528.4 323.6 L537.2 319.7 L539.6 322.5 L545.5 323.7 L546.7 321.3 L554.9 322.1 L564.3 321.3 L566.2 324.9 L565.5 330.8 L567.9 335.5 L571.4 340.2 L572.6 346.1 L572.6 346.5 L564.3 350.0 L560.8 355.9 L562.0 361.8 L557.3 366.5 L551.4 372.4 L545.5 377.1 L540.8 380.7 L534.9 385.4 L529.0 390.1 L534.3 388.9 L528.4 390.7 L523.7 392.6 L519.0 394.3 L513.1 396.6 L507.2 395.5 L504.9 392.6 L499.0 394.3 L494.3 396.6 L493.1 402.5 L489.5 410.8 L487.7 416.7 L484.8 419.0 L477.8 420.7 L471.9 419.0 L473.0 415.5 L475.9 409.6 L476.6 402.5 L481.3 401.3 L486.0 400.2 L483.6 394.3 L478.9 388.4 L474.2 383.7 L471.9 379.0 L463.6 377.8 L455.4 376.6 L448.3 381.3 L443.6 384.9 L437.7 388.9 L430.6 392.6 L424.7 390.7 L417.7 391.2 L410.7 391.9 L402.5 388.9 L404.9 383.7 L407.2 377.8 L404.9 373.1 L407.2 367.2 L410.7 361.3 L415.0 355.4 L414.3 349.5 L410.7 344.8 L409.6 338.9 L407.2 334.2Z" fill="#a9a9a9" stroke="#a9a9a9" stroke-width="0.4" stroke-linejoin="round"/>
<path d="M516.6 404.9 L519.0 401.3 L522.5 397.8 L524.9 395.0 L528.4 393.1 L532.0 395.5 L536.7 396.6 L542.6 395.5 L549.6 394.3 L553.7 394.8 L554.9 399.5 L549.0 401.9 L547.3 401.3 L541.4 404.9 L537.8 409.6 L534.3 415.5 L529.6 417.1 L528.4 412.0 L524.9 409.1 L520.2 408.4Z" fill="#a9a9a9" stroke="#a9a9a9" stroke-width="0.4" stroke-linejoin="round"/>
<path d="M448.3 381.3 L455.4 376.6 L463.6 377.8 L471.9 379.0 L474.2 383.7 L478.9 388.4 L483.6 394.3 L486.0 400.2 L481.3 401.3 L476.6 402.5 L475.9 409.6 L473.0 415.5 L471.9 419.0 L453.0 386.0 L457.7 390.7 L462.4 395.5 L467.2 400.2 L469.5 407.2 L470.7 414.3 L471.9 419.0Z" fill="#a9a9a9" stroke="#a9a9a9" stroke-width="0.4" stroke-linejoin="round"/>
<path d="M448.3 381.3 L443.6 384.9 L437.7 388.9 L430.6 392.6 L424.7 390.7 L417.7 391.2 L410.7 391.9 L405.9 399.4 L402.9 406.5 L400.8 413.7 L398.8 419.8 L393.7 423.9 L387.1 425.3 L390.6 428.7 L394.9 434.0 L397.5 439.2 L402.8 442.7 L408.8 445.6 L414.1 445.6 L416.3 443.5 L417.1 447.6 L418.9 450.5 L422.5 453.1 L429.0 452.7 L436.3 452.2 L443.5 451.6 L449.3 451.2 L453.0 448.3 L455.9 445.4 L460.2 443.2 L464.6 441.5 L469.7 441.0 L474.0 441.8 L478.4 442.9 L482.0 443.2 L481.9 438.9 L482.4 433.0 L484.3 427.1 L487.8 423.6 L487.1 417.2 L484.8 419.0 L477.8 420.7 L471.9 419.0 L470.7 414.3 L469.5 407.2 L467.2 400.2 L462.4 395.5 L457.7 390.7 L453.0 386.0Z" fill="#51bbc0" stroke="#51bbc0" stroke-width="0.4" stroke-linejoin="round"/>
<path d="M387.1 425.3 L385.3 424.4 L380.1 426.1 L375.8 429.6 L377.5 434.0 L380.1 437.4 L379.2 440.9 L380.5 443.5 L381.0 450.5 L382.7 455.7 L385.3 460.1 L383.6 463.6 L386.2 467.0 L390.6 471.4 L394.0 474.9 L396.7 471.4 L400.1 467.0 L404.5 468.8 L408.8 472.3 L410.6 476.6 L414.9 477.5 L416.1 479.0 L419.6 475.9 L420.3 471.5 L421.8 467.9 L422.9 463.5 L420.3 459.9 L417.4 455.6 L416.7 451.2 L418.9 450.5 L417.1 447.6 L416.3 443.5 L414.1 445.6 L408.8 445.6 L402.8 442.7 L397.5 439.2 L394.9 434.0 L390.6 428.7 L387.1 425.3Z" fill="#17347f" stroke="#17347f" stroke-width="0.4" stroke-linejoin="round"/>
<path d="M380.5 443.5 L378.4 443.5 L373.1 442.7 L367.9 443.2 L361.0 443.5 L354.0 442.7 L347.9 443.2 L343.5 444.4 L346.2 450.5 L350.5 455.7 L355.7 461.0 L361.0 466.2 L366.2 471.4 L371.4 475.8 L375.8 479.2 L376.6 476.6 L377.5 472.3 L379.2 468.8 L381.0 465.3 L383.6 463.6 L385.3 460.1 L382.7 455.7 L381.0 450.5 L380.5 443.5Z" fill="#a9a9a9" stroke="#a9a9a9" stroke-width="0.4" stroke-linejoin="round"/>
<path d="M383.6 463.6 L381.0 465.3 L379.2 468.8 L377.5 472.3 L376.6 476.6 L375.8 479.2 L376.6 481.2 L378.4 481.9 L381.9 485.3 L386.2 488.8 L387.1 487.1 L387.9 481.9 L389.7 479.2 L393.2 477.5 L394.0 474.9 L390.6 471.4 L386.2 467.0 L383.6 463.6Z" fill="#a9a9a9" stroke="#a9a9a9" stroke-width="0.4" stroke-linejoin="round"/>
<path d="M394.0 474.9 L396.7 471.4 L400.1 467.0 L404.5 468.8 L408.8 472.3 L410.6 476.6 L408.0 480.1 L403.6 481.9 L401.0 484.5 L397.5 479.2 L393.2 477.5 L394.0 474.9Z" fill="#e0e0e0" stroke="#e0e0e0" stroke-width="0.4" stroke-linejoin="round"/>
<path d="M387.1 487.1 L387.9 492.3 L388.8 497.5 L388.8 504.5 L389.7 510.1 L393.4 513.8 L397.0 518.3 L400.8 521.2 L403.3 516.3 L406.6 511.3 L404.5 500.1 L401.0 495.8 L400.1 490.6 L401.0 484.5 L397.5 479.2 L393.2 477.5 L389.7 479.2 L387.9 481.9 L387.1 487.1Z" fill="#a9a9a9" stroke="#a9a9a9" stroke-width="0.4" stroke-linejoin="round"/>
<path d="M401.0 484.5 L403.6 481.9 L408.0 480.1 L410.6 476.6 L414.9 477.5 L416.1 479.0 L421.2 480.0 L426.3 483.1 L428.0 487.1 L425.3 492.2 L420.2 495.3 L414.1 498.4 L409.7 501.0 L404.5 500.1 L401.0 495.8 L400.1 490.6 L401.0 484.5Z" fill="#a9a9a9" stroke="#a9a9a9" stroke-width="0.4" stroke-linejoin="round"/>
<path d="M418.9 450.5 L422.5 453.1 L429.0 452.7 L436.3 452.2 L443.5 451.6 L449.3 451.2 L453.0 448.3 L455.9 445.4 L460.2 443.2 L464.6 441.5 L469.7 441.0 L474.0 441.8 L478.4 442.9 L482.0 443.2 L481.0 447.6 L478.4 450.5 L477.6 454.8 L477.6 459.2 L475.5 462.8 L478.4 466.4 L481.0 470.1 L478.4 470.1 L474.0 470.8 L469.7 471.5 L466.0 473.7 L463.9 475.9 L462.7 478.1 L463.1 479.8 L462.4 483.1 L459.5 483.9 L455.2 485.0 L449.3 484.6 L443.5 485.0 L437.7 486.0 L431.9 487.9 L428.0 487.1 L426.3 483.1 L421.2 480.0 L416.1 479.0 L419.6 475.9 L420.3 471.5 L421.8 467.9 L422.9 463.5 L420.3 459.9 L417.4 455.6 L416.7 451.2Z" fill="#17347f" stroke="#17347f" stroke-width="0.4" stroke-linejoin="round"/>
<path d="M400.8 521.2 L403.3 516.3 L406.6 511.3 L404.5 500.1 L409.7 501.0 L414.1 498.4 L420.2 495.3 L425.3 492.2 L428.0 487.1 L431.9 487.9 L437.7 486.0 L443.5 485.0 L449.3 484.6 L455.2 485.0 L459.5 483.9 L462.4 483.1 L463.1 479.8 L464.3 482.5 L466.0 486.6 L465.6 490.7 L464.0 493.2 L457.8 491.5 L452.8 492.4 L447.7 494.8 L442.7 496.5 L439.0 498.2 L438.3 500.7 L439.6 503.2 L442.1 505.1 L443.4 507.6 L440.8 506.3 L438.3 507.0 L437.1 508.8 L433.9 506.3 L431.4 503.8 L428.3 502.6 L427.0 505.1 L427.9 508.8 L429.5 512.0 L431.4 514.5 L433.3 517.0 L435.2 519.5 L433.9 521.1 L432.0 522.9 L433.3 524.5 L436.4 525.5 L440.2 526.7 L444.0 528.7 L447.7 530.8 L450.9 533.3 L452.8 535.5 L451.3 536.7 L449.0 536.7 L448.4 538.4 L449.0 541.5 L446.5 539.6 L442.7 538.4 L439.0 537.7 L436.4 539.0 L438.3 540.2 L440.8 540.2 L442.7 541.5 L442.1 544.0 L440.2 545.3 L438.3 548.4 L435.2 547.1 L434.6 549.0 L435.8 552.2 L437.7 555.3 L439.6 558.4 L440.8 561.6 L439.0 562.2 L436.4 560.3 L433.9 558.4 L433.3 560.3 L431.4 562.8 L430.2 558.4 L428.3 555.9 L426.4 557.8 L423.9 559.7 L422.0 557.2 L422.0 552.8 L420.1 549.0 L417.6 545.9 L413.8 545.3 L412.0 540.2 L410.7 536.5 L407.6 535.2 L407.6 532.7 L410.1 530.8 L412.0 528.3 L408.8 528.3 L405.7 525.8 L402.5 522.7Z" fill="#17347f" stroke="#17347f" stroke-width="0.4" stroke-linejoin="round"/>
<path d="M448.6 575.6 L452.8 573.2 L459.4 574.0 L466.0 574.8 L472.6 574.0 L479.2 572.7 L481.6 573.2 L480.8 576.0 L475.9 577.3 L469.3 578.9 L464.3 580.3 L457.7 578.6 L451.1 578.6Z" fill="#17347f" stroke="#17347f" stroke-width="0.4" stroke-linejoin="round"/>
<path d="M456.9 505.6 L459.4 506.1 L458.5 508.0 L456.6 507.7Z" fill="#17347f" stroke="#17347f" stroke-width="0.4" stroke-linejoin="round"/>
<path d="M466.0 513.8 L470.1 512.2 L473.4 515.5 L470.1 517.1 L466.8 515.9Z" fill="#17347f" stroke="#17347f" stroke-width="0.4" stroke-linejoin="round"/>
<path d="M467.6 524.5 L470.9 523.7 L472.6 527.0 L470.1 529.5 L467.6 527.8Z" fill="#17347f" stroke="#17347f" stroke-width="0.4" stroke-linejoin="round"/>
<path d="M479.2 533.6 L482.5 534.4 L481.6 536.9 L479.2 536.1Z" fill="#17347f" stroke="#17347f" stroke-width="0.4" stroke-linejoin="round"/>
<path d="M483.3 539.7 L486.1 540.2 L484.9 541.8Z" fill="#17347f" stroke="#17347f" stroke-width="0.4" stroke-linejoin="round"/>
<path d="M497.3 553.4 L499.8 550.1 L501.4 552.6 L498.9 557.5Z" fill="#17347f" stroke="#17347f" stroke-width="0.4" stroke-linejoin="round"/>
<path d="M489.9 565.8 L491.5 564.1 L490.7 568.2Z" fill="#17347f" stroke="#17347f" stroke-width="0.4" stroke-linejoin="round"/>
<path d="M443.7 569.1 L444.9 569.9 L443.9 571.0Z" fill="#17347f" stroke="#17347f" stroke-width="0.4" stroke-linejoin="round"/>
<path d="M405.8 540.2 L408.2 539.0 L409.1 542.7 L406.6 543.0Z" fill="#17347f" stroke="#17347f" stroke-width="0.4" stroke-linejoin="round"/>
<path d="M409.1 546.0 L410.7 547.3 L409.6 548.3Z" fill="#17347f" stroke="#17347f" stroke-width="0.4" stroke-linejoin="round"/>
<path d="M451.5 523.2 L453.1 523.9 L452.1 525.2Z" fill="#17347f" stroke="#17347f" stroke-width="0.4" stroke-linejoin="round"/>
<path d="M466.0 546.8 L467.9 546.0 L468.4 548.4 L466.5 549.3Z" fill="#17347f" stroke="#17347f" stroke-width="0.4" stroke-linejoin="round"/>
<path d="M461.8 541.8 L463.5 541.3 L464.0 543.5 L462.3 544.0Z" fill="#17347f" stroke="#17347f" stroke-width="0.4" stroke-linejoin="round"/>
<path d="M456.1 554.5 L458.0 553.9 L457.7 555.9Z" fill="#17347f" stroke="#17347f" stroke-width="0.4" stroke-linejoin="round"/>
<path d="M463.5 552.6 L465.1 551.9 L465.6 553.7 L463.8 554.2Z" fill="#17347f" stroke="#17347f" stroke-width="0.4" stroke-linejoin="round"/>
<path d="M471.7 549.6 L473.4 549.3 L473.2 551.2Z" fill="#17347f" stroke="#17347f" stroke-width="0.4" stroke-linejoin="round"/>
<path d="M452.4 541.8 L454.1 541.3 L453.8 543.3Z" fill="#17347f" stroke="#17347f" stroke-width="0.4" stroke-linejoin="round"/>
<path d="M459.4 550.1 L460.7 549.6 L461.0 551.2Z" fill="#17347f" stroke="#17347f" stroke-width="0.4" stroke-linejoin="round"/>
<path d="M477.5 552.6 L479.2 551.9 L478.8 553.9Z" fill="#17347f" stroke="#17347f" stroke-width="0.4" stroke-linejoin="round"/>
<path d="M469.3 556.2 L470.9 555.9 L470.6 557.5Z" fill="#17347f" stroke="#17347f" stroke-width="0.4" stroke-linejoin="round"/>
<path d="M456.9 537.7 L458.5 537.2 L458.7 539.0Z" fill="#17347f" stroke="#17347f" stroke-width="0.4" stroke-linejoin="round"/>
<path d="M406.6 532.8 L408.2 531.9 L407.9 534.4Z" fill="#17347f" stroke="#17347f" stroke-width="0.4" stroke-linejoin="round"/>
<path d="M487.4 549.3 L489.4 550.1 L488.4 551.7Z" fill="#17347f" stroke="#17347f" stroke-width="0.4" stroke-linejoin="round"/>
<path d="M489.9 546.0 L491.0 545.3 L491.4 547.3Z" fill="#17347f" stroke="#17347f" stroke-width="0.4" stroke-linejoin="round"/>
<path d="M481.0 470.1 L478.4 470.1 L474.0 470.8 L469.7 471.5 L466.0 473.7 L463.9 475.9 L462.7 478.1 L463.1 479.8 L464.3 482.5 L466.0 486.6 L465.6 490.7 L464.0 493.2 L466.8 494.5 L470.1 494.0 L472.6 492.9 L471.2 495.7 L469.3 499.0 L467.6 502.3 L468.9 501.8 L470.9 498.5 L473.4 496.2 L475.9 494.8 L477.5 489.9 L480.8 486.6 L485.8 484.9 L490.7 484.9 L494.0 484.1 L495.3 480.0 L494.9 477.1 L494.3 477.3 L490.0 477.3 L485.6 475.9 L482.7 473.0 L481.0 470.1Z" fill="#17347f" stroke="#17347f" stroke-width="0.4" stroke-linejoin="round"/>
<path d="M494.9 477.1 L503.1 476.1 L512.5 474.3 L519.6 471.9 L524.3 467.2 L529.0 461.3 L533.7 456.6 L540.8 453.5 L527.4 464.7 L535.7 457.8 L545.3 452.3 L554.9 448.2 L559.0 449.6 L564.5 448.2 L569.9 451.0 L576.8 451.5 L585.0 451.0 L594.6 448.2 L604.2 444.1 L612.5 441.4 L619.7 438.4 L623.3 432.5 L626.1 426.6 L632.7 424.3 L637.4 420.7 L645.6 423.1 L650.3 424.3 L652.7 431.3 L656.2 435.6 L665.7 436.0 L666.8 440.7 L665.2 445.5 L669.2 450.2 L672.7 457.2 L675.1 463.1 L679.8 466.7 L683.3 471.4 L683.8 475.7 L683.8 475.7 L675.6 475.7 L667.3 478.4 L659.1 483.9 L650.9 489.4 L642.6 496.2 L634.4 501.7 L626.2 505.8 L618.0 508.6 L609.7 512.7 L602.9 515.4 L598.8 514.1 L597.4 522.3 L596.0 529.2 L593.3 530.5 L590.5 525.0 L591.9 519.6 L589.2 516.8 L586.4 520.9 L580.9 523.7 L574.1 527.2 L568.6 531.9 L564.5 536.0 L559.0 539.3 L552.1 538.8 L545.3 536.6 L538.4 535.5 L531.5 536.6 L527.4 540.1 L527.4 545.6 L521.9 548.4 L515.1 547.0 L508.2 544.2 L502.7 543.7 L505.5 543.5 L498.9 544.3 L497.3 546.0 L494.0 545.1 L489.9 544.3 L487.4 540.2 L484.1 536.9 L485.8 533.6 L482.5 530.3 L477.5 528.6 L473.4 527.0 L475.0 523.7 L477.5 525.3 L480.8 522.9 L477.5 517.9 L475.9 513.8 L476.7 510.5 L473.4 509.7 L469.3 506.4 L467.3 504.7 L467.9 503.4 L469.3 502.3 L470.9 499.5 L472.6 497.8 L475.9 496.5 L479.2 494.8 L482.5 492.4 L487.4 491.5 L492.3 490.7 L497.3 489.1 L501.9 486.6 L498.9 484.9 L496.0 484.1 L495.6 477.5Z" fill="#17347f" stroke="#17347f" stroke-width="0.4" stroke-linejoin="round"/>
<path d="M599.7 405.4 L606.8 403.0 L613.8 401.9 L622.1 399.5 L630.3 398.8 L639.7 399.5 L644.5 397.2 L650.3 394.1 L661.0 393.6 L663.3 397.2 L670.4 398.3 L672.7 404.2 L677.4 404.9 L677.9 407.8 L670.4 410.1 L663.3 412.0 L662.1 414.8 L656.2 418.4 L650.3 423.1 L645.6 423.1 L637.4 420.7 L632.7 424.3 L626.1 426.6 L623.3 418.4 L619.7 413.6 L613.8 410.1 L606.8 408.9Z" fill="#a9a9a9" stroke="#a9a9a9" stroke-width="0.4" stroke-linejoin="round"/>
<path d="M554.3 556.6 L559.0 552.5 L564.5 549.7 L569.9 547.0 L574.1 543.7 L578.2 539.3 L576.8 544.2 L573.5 548.4 L571.3 552.5 L565.8 556.6 L559.0 558.5Z" fill="#51bbc0" stroke="#51bbc0" stroke-width="0.4" stroke-linejoin="round"/>
<path d="M394.2 519.1 L398.0 520.4 L397.5 524.9Z" fill="#17347f" stroke="#17347f" stroke-width="0.4" stroke-linejoin="round"/>
<path d="M309.0 463.4 L309.6 462.8 L310.2 463.4 L309.6 464.0Z" fill="#555" stroke="#555" stroke-width="0.4" stroke-linejoin="round"/>
<path d="M310.0 494.5 L310.6 493.9 L311.2 494.5 L310.6 495.1Z" fill="#555" stroke="#555" stroke-width="0.4" stroke-linejoin="round"/>
<path d="M138.0 277.7 L135.9 281.1 L131.8 286.2 L127.8 288.3 L128.8 292.3 L132.9 294.4 L136.9 291.3 L139.0 296.4 L141.0 298.1" fill="none" stroke="#000" stroke-width="0.85" stroke-opacity="0.72" stroke-linejoin="round" stroke-linecap="round"/>
<path d="M294.8 240.7 L295.5 234.8 L296.4 227.7 L299.5 225.4 L300.7 218.3 L299.5 211.2 L301.9 206.5 L300.2 200.6 L298.8 192.4 L297.9 184.1 L297.2 177.1 L298.3 170.2 L300.7 165.5 L307.8 164.3 L306.6 158.4 L308.9 151.3 L311.3 144.3 L310.8 133.6 L314.8 132.5 L316.0 125.4 L319.5 118.3 L319.1 112.4 L323.1 104.2 L327.8 103.0 L328.5 95.9 L333.7 94.8 L338.4 93.6 L338.9 87.7 L341.9 85.3" fill="none" stroke="#000" stroke-width="0.85" stroke-opacity="0.72" stroke-linejoin="round" stroke-linecap="round"/>
<path d="M341.9 85.3 L343.1 83.0 L346.6 86.5 L351.3 88.9 L357.2 88.9 L359.1 86.5 L364.3 87.7 L366.7 80.6 L366.7 70.0 L371.4 65.3 L374.9 64.1 L379.6 67.7 L383.2 68.9 L383.6 73.6 L383.6 75.9" fill="none" stroke="#000" stroke-width="0.85" stroke-opacity="0.72" stroke-linejoin="round" stroke-linecap="round"/>
<path d="M383.6 75.9 L382.9 72.4 L384.8 68.9 L389.5 67.7 L391.4 65.3 L390.7 64.1" fill="none" stroke="#000" stroke-width="0.85" stroke-opacity="0.72" stroke-linejoin="round" stroke-linecap="round"/>
<path d="M341.9 85.3 L345.5 88.9 L350.2 91.2 L354.9 93.6 L359.1 99.5 L359.6 106.6 L363.1 112.4 L365.5 118.3 L366.2 123.0 L369.0 130.1 L369.0 131.3" fill="none" stroke="#000" stroke-width="0.85" stroke-opacity="0.72" stroke-linejoin="round" stroke-linecap="round"/>
<path d="M383.6 75.9 L384.8 83.0 L388.3 87.7 L393.0 92.4 L395.8 97.1 L395.4 105.4 L398.9 111.3 L402.4 117.2 L404.1 123.0 L404.8 130.1 L408.3 134.8 L410.2 140.7 L414.2 144.3 L415.4 149.0 L413.5 151.3 L418.9 153.7 L424.8 156.5 L427.7 160.7 L427.2 167.8 L424.8 174.9 L422.5 182.0 L418.9 191.4 L413.0 199.4" fill="none" stroke="#000" stroke-width="0.85" stroke-opacity="0.72" stroke-linejoin="round" stroke-linecap="round"/>
<path d="M271.0 300.7 L273.9 301.1 L277.4 302.8" fill="none" stroke="#000" stroke-width="0.85" stroke-opacity="0.72" stroke-linejoin="round" stroke-linecap="round"/>
<path d="M418.9 216.4 L419.6 220.6 L417.8 225.3 L418.9 231.2 L421.3 237.1 L422.5 241.8 L421.3 245.4" fill="none" stroke="#000" stroke-width="0.85" stroke-opacity="0.72" stroke-linejoin="round" stroke-linecap="round"/>
<path d="M421.3 245.4 L415.4 246.6 L410.7 244.7 L407.2 243.0 L402.4 241.8 L398.9 243.7 L396.6 245.4" fill="none" stroke="#000" stroke-width="0.85" stroke-opacity="0.72" stroke-linejoin="round" stroke-linecap="round"/>
<path d="M421.3 245.4 L424.8 246.6 L426.0 252.4 L429.5 257.2 L432.4 261.9" fill="none" stroke="#000" stroke-width="0.85" stroke-opacity="0.72" stroke-linejoin="round" stroke-linecap="round"/>
<path d="M432.4 261.9 L430.7 266.6 L427.2 270.1 L422.5 272.9" fill="none" stroke="#000" stroke-width="0.85" stroke-opacity="0.72" stroke-linejoin="round" stroke-linecap="round"/>
<path d="M422.5 272.9 L418.9 271.3 L413.0 268.9 L407.2 267.8 L402.4 266.6 L396.6 267.8 L389.5 269.6 L382.4 271.3 L377.7 273.6 L374.2 276.0" fill="none" stroke="#000" stroke-width="0.85" stroke-opacity="0.72" stroke-linejoin="round" stroke-linecap="round"/>
<path d="M422.5 272.9 L423.6 278.4 L421.3 283.1 L417.8 286.6 L416.6 293.7 L418.9 297.2 L415.4 298.4 L411.9 300.7 L407.2 303.1 L402.4 304.3" fill="none" stroke="#000" stroke-width="0.85" stroke-opacity="0.72" stroke-linejoin="round" stroke-linecap="round"/>
<path d="M402.4 304.3 L400.1 300.7 L394.2 299.6" fill="none" stroke="#000" stroke-width="0.85" stroke-opacity="0.72" stroke-linejoin="round" stroke-linecap="round"/>
<path d="M394.2 299.6 L392.3 294.9 L393.0 291.3 L388.3 290.1 L382.4 289.0 L378.9 289.0" fill="none" stroke="#000" stroke-width="0.85" stroke-opacity="0.72" stroke-linejoin="round" stroke-linecap="round"/>
<path d="M317.8 312.4 L321.3 315.9 L322.5 324.2 L321.3 331.2 L324.9 338.3 L327.2 345.4 L329.1 352.4 L328.4 357.2" fill="none" stroke="#000" stroke-width="0.85" stroke-opacity="0.72" stroke-linejoin="round" stroke-linecap="round"/>
<path d="M328.4 357.2 L323.7 359.5 L317.8 361.9 L311.9 365.4 L307.2 368.9 L303.7 371.3 L307.2 378.4 L310.7 383.1 L315.5 387.8 L320.2 391.3 L322.5 393.7" fill="none" stroke="#000" stroke-width="0.85" stroke-opacity="0.72" stroke-linejoin="round" stroke-linecap="round"/>
<path d="M322.5 393.7 L317.8 397.2 L314.3 400.7 L313.1 407.8 L310.7 410.2 L303.7 409.0 L296.6 412.5 L289.5 413.7 L282.5 411.3 L278.9 412.5" fill="none" stroke="#000" stroke-width="0.85" stroke-opacity="0.72" stroke-linejoin="round" stroke-linecap="round"/>
<path d="M278.9 412.5 L275.4 409.0 L268.3 407.8 L262.4 409.0 L258.4 409.0" fill="none" stroke="#000" stroke-width="0.85" stroke-opacity="0.72" stroke-linejoin="round" stroke-linecap="round"/>
<path d="M258.4 409.0 L258.9 400.7 L262.4 393.7 L265.7 390.0 L260.3 387.8 L254.6 386.6 L248.3 384.7" fill="none" stroke="#000" stroke-width="0.85" stroke-opacity="0.72" stroke-linejoin="round" stroke-linecap="round"/>
<path d="M248.3 384.7 L249.2 381.6 L249.0 377.8 L247.1 374.7 L245.8 371.5" fill="none" stroke="#000" stroke-width="0.85" stroke-opacity="0.72" stroke-linejoin="round" stroke-linecap="round"/>
<path d="M245.8 371.5 L247.1 370.3 L248.7 368.4 L247.7 365.2 L245.8 362.7 L245.2 359.0" fill="none" stroke="#000" stroke-width="0.85" stroke-opacity="0.72" stroke-linejoin="round" stroke-linecap="round"/>
<path d="M245.2 359.0 L246.4 355.8 L247.4 352.7 L248.3 350.2 L252.1 345.1 L253.4 342.0 L255.9 340.7 L255.9 338.2 L253.4 337.6 L252.7 335.1 L255.2 334.5 L256.5 331.3 L257.7 327.6 L257.5 324.4" fill="none" stroke="#000" stroke-width="0.85" stroke-opacity="0.72" stroke-linejoin="round" stroke-linecap="round"/>
<path d="M245.2 359.0 L243.3 357.1 L240.8 355.2 L238.3 352.7 L235.8 351.2 L230.7 350.8 L227.0 352.4 L223.2 352.7 L220.1 351.4" fill="none" stroke="#000" stroke-width="0.85" stroke-opacity="0.72" stroke-linejoin="round" stroke-linecap="round"/>
<path d="M245.8 371.5 L243.9 373.4 L242.7 376.5 L242.7 380.3" fill="none" stroke="#000" stroke-width="0.85" stroke-opacity="0.72" stroke-linejoin="round" stroke-linecap="round"/>
<path d="M242.7 380.3 L239.5 380.3 L238.3 378.4 L235.1 376.5 L233.3 374.0 L230.7 371.5 L227.6 372.1 L225.7 369.0 L222.6 366.5 L219.4 363.4 L217.6 360.5 L214.4 359.0 L213.2 355.2" fill="none" stroke="#000" stroke-width="0.85" stroke-opacity="0.72" stroke-linejoin="round" stroke-linecap="round"/>
<path d="M242.7 380.3 L243.3 382.2 L245.8 383.8 L248.3 384.7" fill="none" stroke="#000" stroke-width="0.85" stroke-opacity="0.72" stroke-linejoin="round" stroke-linecap="round"/>
<path d="M324.7 360.1 L329.5 358.9 L335.3 361.3 L341.2 363.6 L345.9 367.2 L350.7 366.0 L355.4 370.7 L361.3 371.9 L366.0 374.3 L370.7 377.8" fill="none" stroke="#000" stroke-width="0.85" stroke-opacity="0.72" stroke-linejoin="round" stroke-linecap="round"/>
<path d="M370.7 377.8 L375.4 376.6 L381.3 379.0 L387.2 376.6 L394.3 375.4 L401.3 376.6 L407.2 377.8" fill="none" stroke="#000" stroke-width="0.85" stroke-opacity="0.72" stroke-linejoin="round" stroke-linecap="round"/>
<path d="M407.2 377.8 L404.9 373.1 L407.2 367.2 L410.7 361.3 L415.0 355.4 L414.3 349.5 L410.7 344.8 L409.6 338.9 L407.2 334.2" fill="none" stroke="#000" stroke-width="0.85" stroke-opacity="0.72" stroke-linejoin="round" stroke-linecap="round"/>
<path d="M407.2 334.2 L403.7 329.5 L407.2 323.6 L406.0 316.5 L403.7 309.5 L401.3 303.6" fill="none" stroke="#000" stroke-width="0.85" stroke-opacity="0.72" stroke-linejoin="round" stroke-linecap="round"/>
<path d="M401.3 303.6 L396.6 300.0" fill="none" stroke="#000" stroke-width="0.85" stroke-opacity="0.72" stroke-linejoin="round" stroke-linecap="round"/>
<path d="M396.6 300.0 L389.5 300.7 L377.8 301.7 L368.3 302.4" fill="none" stroke="#000" stroke-width="0.85" stroke-opacity="0.72" stroke-linejoin="round" stroke-linecap="round"/>
<path d="M370.7 377.8 L366.0 379.0 L362.4 383.7 L357.7 388.4" fill="none" stroke="#000" stroke-width="0.85" stroke-opacity="0.72" stroke-linejoin="round" stroke-linecap="round"/>
<path d="M357.7 388.4 L351.8 389.6 L345.9 389.6 L340.1 388.4 L334.2 388.9 L328.3 393.1 L323.6 394.3" fill="none" stroke="#000" stroke-width="0.85" stroke-opacity="0.72" stroke-linejoin="round" stroke-linecap="round"/>
<path d="M407.2 377.8 L404.9 383.7 L402.5 388.9" fill="none" stroke="#000" stroke-width="0.85" stroke-opacity="0.72" stroke-linejoin="round" stroke-linecap="round"/>
<path d="M402.5 388.9 L395.4 388.4 L389.5 390.7 L382.5 393.1 L375.4 395.5 L370.7 400.2 L364.8 402.5 L358.9 403.0 L353.0 399.0" fill="none" stroke="#000" stroke-width="0.85" stroke-opacity="0.72" stroke-linejoin="round" stroke-linecap="round"/>
<path d="M353.0 399.0 L351.8 393.1 L357.7 388.4" fill="none" stroke="#000" stroke-width="0.85" stroke-opacity="0.72" stroke-linejoin="round" stroke-linecap="round"/>
<path d="M353.0 399.0 L353.1 402.6 L350.5 406.1 L347.9 409.6 L348.8 414.8 L347.4 419.2" fill="none" stroke="#000" stroke-width="0.85" stroke-opacity="0.72" stroke-linejoin="round" stroke-linecap="round"/>
<path d="M347.4 419.2 L343.5 420.9 L336.6 423.5 L327.9 425.8 L318.3 426.1" fill="none" stroke="#000" stroke-width="0.85" stroke-opacity="0.72" stroke-linejoin="round" stroke-linecap="round"/>
<path d="M318.3 426.1 L310.4 423.5 L305.2 420.0 L300.0 416.5 L299.0 419.1 L293.1 420.8 L286.0 419.6" fill="none" stroke="#000" stroke-width="0.85" stroke-opacity="0.72" stroke-linejoin="round" stroke-linecap="round"/>
<path d="M286.0 419.6 L280.1 418.4 L278.2 414.9 L278.9 412.5" fill="none" stroke="#000" stroke-width="0.85" stroke-opacity="0.72" stroke-linejoin="round" stroke-linecap="round"/>
<path d="M286.0 419.6 L287.2 424.3 L283.6 426.7 L280.1 431.4 L275.4 429.0 L271.9 431.4 L268.3 434.9 L262.4 436.1 L256.6 433.7 L253.0 431.4 L250.7 436.1 L250.1 433.1" fill="none" stroke="#000" stroke-width="0.85" stroke-opacity="0.72" stroke-linejoin="round" stroke-linecap="round"/>
<path d="M250.1 433.1 L243.8 431.4 L242.4 430.2 L244.8 424.3 L249.5 418.4 L255.4 412.5 L258.4 409.0" fill="none" stroke="#000" stroke-width="0.85" stroke-opacity="0.72" stroke-linejoin="round" stroke-linecap="round"/>
<path d="M402.5 388.9 L410.7 391.9" fill="none" stroke="#000" stroke-width="0.85" stroke-opacity="0.72" stroke-linejoin="round" stroke-linecap="round"/>
<path d="M410.0 391.8 L405.9 399.4 L402.9 406.5 L400.8 413.7 L398.8 419.8 L393.7 423.9 L387.1 425.3" fill="none" stroke="#000" stroke-width="0.85" stroke-opacity="0.72" stroke-linejoin="round" stroke-linecap="round"/>
<path d="M387.1 425.3 L385.3 424.4 L380.1 426.1 L375.8 429.6" fill="none" stroke="#000" stroke-width="0.85" stroke-opacity="0.72" stroke-linejoin="round" stroke-linecap="round"/>
<path d="M375.8 429.6 L371.4 431.3 L367.0 432.2 L361.0 430.5 L355.7 427.0 L350.5 423.5" fill="none" stroke="#000" stroke-width="0.85" stroke-opacity="0.72" stroke-linejoin="round" stroke-linecap="round"/>
<path d="M350.5 423.5 L347.4 419.2" fill="none" stroke="#000" stroke-width="0.85" stroke-opacity="0.72" stroke-linejoin="round" stroke-linecap="round"/>
<path d="M350.5 423.5 L346.2 426.1 L342.7 427.9 L341.8 432.2 L340.9 436.6 L337.4 439.7 L331.3 440.9 L326.1 440.4 L320.9 441.4" fill="none" stroke="#000" stroke-width="0.85" stroke-opacity="0.72" stroke-linejoin="round" stroke-linecap="round"/>
<path d="M320.9 441.4 L320.0 439.2 L318.8 434.8 L317.4 430.5 L318.3 426.1" fill="none" stroke="#000" stroke-width="0.85" stroke-opacity="0.72" stroke-linejoin="round" stroke-linecap="round"/>
<path d="M375.8 429.6 L377.5 434.0 L380.1 437.4 L379.2 440.9 L380.5 443.5" fill="none" stroke="#000" stroke-width="0.85" stroke-opacity="0.72" stroke-linejoin="round" stroke-linecap="round"/>
<path d="M380.5 443.5 L378.4 443.5 L373.1 442.7 L367.9 443.2 L361.0 443.5 L354.0 442.7 L347.9 443.2 L343.5 444.4 L346.2 450.5 L350.5 455.7 L355.7 461.0 L361.0 466.2 L366.2 471.4 L371.4 475.8 L375.8 479.2" fill="none" stroke="#000" stroke-width="0.85" stroke-opacity="0.72" stroke-linejoin="round" stroke-linecap="round"/>
<path d="M155.4 463.4 L158.9 467.4 L164.2 471.4 L170.9 474.9 L178.9 475.9 L186.9 479.4 L194.9 482.1 L202.9 483.4 L207.5 483.4" fill="none" stroke="#000" stroke-width="0.85" stroke-opacity="0.72" stroke-linejoin="round" stroke-linecap="round"/>
<path d="M257.8 466.1 L256.7 461.3 L253.1 457.8 L249.6 454.3 L249.1 448.4 L247.2 444.9 L250.8 441.3 L252.0 436.6 L250.1 433.1" fill="none" stroke="#000" stroke-width="0.85" stroke-opacity="0.72" stroke-linejoin="round" stroke-linecap="round"/>
<path d="M76.1 541.6 L77.4 535.5 L81.4 531.5 L84.1 527.5 L81.4 522.1 L84.1 515.5 L86.7 514.1 L85.9 508.8 L89.4 503.5 L90.7 496.8 L93.4 490.1 L94.8 484.8 L101.4 480.2 L100.1 475.4 L96.1 472.7 L89.4 472.2 L84.1 471.4 L81.4 467.4 L76.1 467.4" fill="none" stroke="#000" stroke-width="0.85" stroke-opacity="0.72" stroke-linejoin="round" stroke-linecap="round"/>
<path d="M408.2 337.7 L414.1 333.0 L423.6 330.7 L433.0 329.5 L440.1 330.7 L445.9 331.8 L450.7 330.0 L456.6 328.3 L462.4 329.0 L467.2 325.9 L471.9 328.3 L470.7 321.2 L473.0 315.3 L478.9 313.0 L482.5 311.8 L484.8 308.3 L490.7 305.9 L495.4 303.6 L501.3 307.1 L503.7 311.8 L506.0 317.7 L513.1 316.5 L517.8 320.1 L521.3 325.9 L528.4 323.6 L537.2 319.7 L539.6 322.5 L545.5 323.7 L546.7 321.3 L554.9 322.1 L564.3 321.3 L566.2 324.9 L565.5 330.8 L567.9 335.5 L571.4 340.2 L572.6 346.1 L572.6 346.5 L564.3 350.0 L560.8 355.9 L562.0 361.8" fill="none" stroke="#000" stroke-width="0.85" stroke-opacity="0.72" stroke-linejoin="round" stroke-linecap="round"/>
<path d="M487.7 416.7 L484.8 419.0 L477.8 420.7 L471.9 419.0" fill="none" stroke="#000" stroke-width="0.85" stroke-opacity="0.72" stroke-linejoin="round" stroke-linecap="round"/>
<path d="M471.9 419.0 L473.0 415.5 L475.9 409.6 L476.6 402.5 L481.3 401.3 L486.0 400.2 L483.6 394.3 L478.9 388.4 L474.2 383.7 L471.9 379.0 L463.6 377.8 L455.4 376.6 L448.3 381.3" fill="none" stroke="#000" stroke-width="0.85" stroke-opacity="0.72" stroke-linejoin="round" stroke-linecap="round"/>
<path d="M448.3 381.3 L443.6 384.9 L437.7 388.9 L430.6 392.6 L424.7 390.7 L417.7 391.2 L410.7 391.9" fill="none" stroke="#000" stroke-width="0.85" stroke-opacity="0.72" stroke-linejoin="round" stroke-linecap="round"/>
<path d="M448.3 381.3 L453.0 386.0 L457.7 390.7 L462.4 395.5 L467.2 400.2 L469.5 407.2 L470.7 414.3 L471.9 419.0" fill="none" stroke="#000" stroke-width="0.85" stroke-opacity="0.72" stroke-linejoin="round" stroke-linecap="round"/>
<path d="M387.1 425.3 L390.6 428.7 L394.9 434.0 L397.5 439.2 L402.8 442.7 L408.8 445.6 L414.1 445.6 L416.3 443.5 L417.1 447.6 L418.9 450.5" fill="none" stroke="#000" stroke-width="0.85" stroke-opacity="0.72" stroke-linejoin="round" stroke-linecap="round"/>
<path d="M418.9 450.5 L422.5 453.1 L429.0 452.7 L436.3 452.2 L443.5 451.6 L449.3 451.2 L453.0 448.3 L455.9 445.4 L460.2 443.2 L464.6 441.5 L469.7 441.0 L474.0 441.8 L478.4 442.9 L482.0 443.2" fill="none" stroke="#000" stroke-width="0.85" stroke-opacity="0.72" stroke-linejoin="round" stroke-linecap="round"/>
<path d="M380.5 443.5 L381.0 450.5 L382.7 455.7 L385.3 460.1 L383.6 463.6" fill="none" stroke="#000" stroke-width="0.85" stroke-opacity="0.72" stroke-linejoin="round" stroke-linecap="round"/>
<path d="M383.6 463.6 L386.2 467.0 L390.6 471.4 L394.0 474.9" fill="none" stroke="#000" stroke-width="0.85" stroke-opacity="0.72" stroke-linejoin="round" stroke-linecap="round"/>
<path d="M394.0 474.9 L396.7 471.4 L400.1 467.0 L404.5 468.8 L408.8 472.3 L410.6 476.6" fill="none" stroke="#000" stroke-width="0.85" stroke-opacity="0.72" stroke-linejoin="round" stroke-linecap="round"/>
<path d="M410.6 476.6 L414.9 477.5 L416.1 479.0" fill="none" stroke="#000" stroke-width="0.85" stroke-opacity="0.72" stroke-linejoin="round" stroke-linecap="round"/>
<path d="M416.1 479.0 L419.6 475.9 L420.3 471.5 L421.8 467.9 L422.9 463.5 L420.3 459.9 L417.4 455.6 L416.7 451.2 L418.9 450.5" fill="none" stroke="#000" stroke-width="0.85" stroke-opacity="0.72" stroke-linejoin="round" stroke-linecap="round"/>
<path d="M383.6 463.6 L381.0 465.3 L379.2 468.8 L377.5 472.3 L376.6 476.6 L375.8 479.2" fill="none" stroke="#000" stroke-width="0.85" stroke-opacity="0.72" stroke-linejoin="round" stroke-linecap="round"/>
<path d="M393.2 477.5 L389.7 479.2 L387.9 481.9 L387.1 487.1" fill="none" stroke="#000" stroke-width="0.85" stroke-opacity="0.72" stroke-linejoin="round" stroke-linecap="round"/>
<path d="M394.0 474.9 L393.2 477.5" fill="none" stroke="#000" stroke-width="0.85" stroke-opacity="0.72" stroke-linejoin="round" stroke-linecap="round"/>
<path d="M393.2 477.5 L397.5 479.2 L401.0 484.5" fill="none" stroke="#000" stroke-width="0.85" stroke-opacity="0.72" stroke-linejoin="round" stroke-linecap="round"/>
<path d="M401.0 484.5 L403.6 481.9 L408.0 480.1 L410.6 476.6" fill="none" stroke="#000" stroke-width="0.85" stroke-opacity="0.72" stroke-linejoin="round" stroke-linecap="round"/>
<path d="M401.0 484.5 L400.1 490.6 L401.0 495.8 L404.5 500.1" fill="none" stroke="#000" stroke-width="0.85" stroke-opacity="0.72" stroke-linejoin="round" stroke-linecap="round"/>
<path d="M404.5 500.1 L406.6 511.3 L403.3 516.3 L400.8 521.2" fill="none" stroke="#000" stroke-width="0.85" stroke-opacity="0.72" stroke-linejoin="round" stroke-linecap="round"/>
<path d="M416.1 479.0 L421.2 480.0 L426.3 483.1 L428.0 487.1" fill="none" stroke="#000" stroke-width="0.85" stroke-opacity="0.72" stroke-linejoin="round" stroke-linecap="round"/>
<path d="M428.0 487.1 L425.3 492.2 L420.2 495.3 L414.1 498.4 L409.7 501.0 L404.5 500.1" fill="none" stroke="#000" stroke-width="0.85" stroke-opacity="0.72" stroke-linejoin="round" stroke-linecap="round"/>
<path d="M481.0 470.1 L478.4 470.1 L474.0 470.8 L469.7 471.5 L466.0 473.7 L463.9 475.9 L462.7 478.1 L463.1 479.8" fill="none" stroke="#000" stroke-width="0.85" stroke-opacity="0.72" stroke-linejoin="round" stroke-linecap="round"/>
<path d="M463.1 479.8 L462.4 483.1 L459.5 483.9 L455.2 485.0 L449.3 484.6 L443.5 485.0 L437.7 486.0 L431.9 487.9 L428.0 487.1" fill="none" stroke="#000" stroke-width="0.85" stroke-opacity="0.72" stroke-linejoin="round" stroke-linecap="round"/>
<path d="M463.1 479.8 L464.3 482.5 L466.0 486.6 L465.6 490.7 L464.0 493.2" fill="none" stroke="#000" stroke-width="0.85" stroke-opacity="0.72" stroke-linejoin="round" stroke-linecap="round"/>
<path d="M593.3 530.5 L596.0 529.2 L597.4 522.3 L598.8 514.1 L602.9 515.4 L609.7 512.7 L618.0 508.6 L626.2 505.8 L634.4 501.7 L642.6 496.2 L650.9 489.4 L659.1 483.9 L667.3 478.4 L675.6 475.7 L683.8 475.7" fill="none" stroke="#000" stroke-width="0.85" stroke-opacity="0.72" stroke-linejoin="round" stroke-linecap="round"/>
<path d="M626.1 426.6 L632.7 424.3 L637.4 420.7 L645.6 423.1" fill="none" stroke="#000" stroke-width="0.85" stroke-opacity="0.72" stroke-linejoin="round" stroke-linecap="round"/>
<path d="M645.6 423.1 L650.3 424.3 L652.7 431.3 L656.2 435.6 L665.7 436.0 L666.8 440.7 L665.2 445.5 L669.2 450.2 L672.7 457.2 L675.1 463.1 L679.8 466.7 L683.3 471.4 L683.8 475.7" fill="none" stroke="#000" stroke-width="0.85" stroke-opacity="0.72" stroke-linejoin="round" stroke-linecap="round"/>
<path d="M599.7 405.4 L606.8 403.0 L613.8 401.9 L622.1 399.5 L630.3 398.8 L639.7 399.5 L644.5 397.2 L650.3 394.1 L661.0 393.6 L663.3 397.2 L670.4 398.3 L672.7 404.2 L677.4 404.9 L677.9 407.8" fill="none" stroke="#000" stroke-width="0.85" stroke-opacity="0.72" stroke-linejoin="round" stroke-linecap="round"/>
<path d="M677.9 407.8 L670.4 410.1 L663.3 412.0 L662.1 414.8 L656.2 418.4 L650.3 423.1 L645.6 423.1" fill="none" stroke="#000" stroke-width="0.85" stroke-opacity="0.72" stroke-linejoin="round" stroke-linecap="round"/>
<path d="M432.4 261.9 L436.6 264.2 L441.3 263.0 L443.7 266.6 L448.4 264.2 L454.3 263.5 L457.8 266.6 L459.0 271.3 L462.5 276.0 L467.2 280.7 L472.0 284.3 L476.7 286.6 L481.4 292.5 L478.9 297.7 L471.9 298.9 L470.7 302.4 L475.4 308.3 L478.9 313.0" fill="none" stroke="#111" stroke-width="0.85" stroke-opacity="0.72" stroke-linejoin="round" stroke-linecap="round"/>
<path d="M662.1 414.8 L664.5 417.7 L670.4 420.7 L675.1 424.7 L679.8 429.0 L684.5 431.3 L689.0 433.7" fill="none" stroke="#222" stroke-width="0.8" stroke-opacity="0.72" stroke-linejoin="round" stroke-linecap="round"/>
<path d="M677.9 407.8 L682.2 404.2 L685.7 400.7 L689.0 399.5" fill="none" stroke="#222" stroke-width="0.8" stroke-opacity="0.72" stroke-linejoin="round" stroke-linecap="round"/>
<path d="M665.7 436.0 L670.4 437.4 L675.1 435.1 L681.0 433.7 L685.7 437.2 L689.0 440.7" fill="none" stroke="#222" stroke-width="0.8" stroke-opacity="0.72" stroke-linejoin="round" stroke-linecap="round"/>
<path d="M670.4 437.4 L673.9 440.7 L679.8 440.3 L684.5 442.6 L689.0 443.1" fill="none" stroke="#222" stroke-width="0.8" stroke-opacity="0.72" stroke-linejoin="round" stroke-linecap="round"/>
<path d="M659.1 483.9 L656.4 492.1 L650.9 499.0 L655.0 508.6 L659.1 522.3 L657.7 527.8 L648.1 541.5 L641.3 549.7 L657.2 530.0 L647.1 542.3 L637.6 554.7 L626.7 568.5 L620.2 573.5" fill="none" stroke="#111" stroke-width="0.85" stroke-opacity="0.72" stroke-linejoin="round" stroke-linecap="round"/>
<path d="M637.6 554.7 L641.2 559.0 L644.9 564.8 L647.1 568.0 L652.9 568.5 L658.7 567.0" fill="none" stroke="#111" stroke-width="0.85" stroke-opacity="0.72" stroke-linejoin="round" stroke-linecap="round"/>
<path d="M594.1 549.6 L599.2 547.4 L603.5 546.7 L607.9 550.3 L607.1 556.1 L603.5 561.2 L602.8 566.3 L599.9 570.6 L595.5 573.5" fill="none" stroke="#222" stroke-width="0.8" stroke-opacity="0.72" stroke-linejoin="round" stroke-linecap="round"/>
<path d="M599.9 570.6 L602.8 575.7 L609.3 577.2 L618.0 577.9 L623.8 573.5" fill="none" stroke="#777" stroke-width="0.6" stroke-opacity="0.72" stroke-linejoin="round" stroke-linecap="round"/>
<path d="M602.8 575.7 L602.1 580.8 L597.7 583.0" fill="none" stroke="#999" stroke-width="0.6" stroke-opacity="0.72" stroke-linejoin="round" stroke-linecap="round"/>
<path d="M689.0 220.0 L685.7 224.7 L685.0 231.8 L679.8 233.0 L673.9 233.0 L676.3 237.7 L675.1 240.1 L671.6 236.5 L665.7 235.3 L659.8 234.9 L653.9 237.7 L649.2 237.2 L645.6 242.4 L640.9 243.6 L637.4 244.8 L637.9 250.7 L636.2 256.6 L632.7 261.3 L633.9 266.0 L629.8 270.2 L633.9 274.2 L636.2 277.8 L633.9 281.3 L628.0 278.9 L623.3 277.3 L621.4 281.3 L622.1 286.0 L620.9 289.5 L623.3 294.3 L627.5 297.1 L626.8 303.7 L628.4 308.9 L635.0 309.6 L638.6 315.0 L642.1 312.6 L648.0 310.7 L652.7 313.1 L657.4 316.6 L661.0 320.2 L658.6 323.0 L663.3 323.7 L668.0 323.7" fill="none" stroke="#111" stroke-width="0.85" stroke-opacity="0.72" stroke-linejoin="round" stroke-linecap="round"/>
<path d="M266.1 568.6 L264.5 571 L263.2 573.5 L262.8 578 L262 583" fill="none" stroke="#222" stroke-width="0.8" stroke-opacity="0.72" stroke-linejoin="round" stroke-linecap="round"/>
</g>
<rect x="0" y="586" width="689" height="51" fill="#fff"/>
<rect x="0" y="0" width="689" height="47" fill="#fff"/>
<rect x="670.5" y="46" width="16" height="545" fill="url(#fr)"/><rect x="686.4" y="46" width="3" height="545" fill="#fff"/>
<!-- malta inset -->
<rect x="543" y="118.3" width="63" height="67.7" fill="#fff" stroke="#e9e9e9" stroke-width="0.8"/>
<path d="M553.0 136.7 L555.0 134.7 L559.0 134.0 L563.0 135.3 L567.0 137.3 L569.0 140.0 L566.3 141.3 L561.7 142.7 L557.7 141.3 L554.3 140.0Z" fill="#51bbc0"/>
<path d="M567.7 142.0 L570.3 141.3 L570.7 143.1 L568.3 143.3Z" fill="#51bbc0"/>
<path d="M568.3 146.7 L571.0 145.3 L573.7 144.7 L573.0 147.3 L576.3 149.3 L580.3 149.3 L584.3 150.7 L587.7 153.3 L591.0 156.0 L594.3 158.0 L595.0 161.3 L594.3 164.7 L591.7 166.0 L589.7 167.3 L585.7 166.7 L581.7 165.3 L577.7 164.0 L574.3 161.3 L571.7 158.7 L569.7 156.0 L569.9 152.0 L569.0 149.3Z" fill="#51bbc0"/>
<text x="544" y="129.1" font-size="7.3" fill="#555">Malta</text>
<!-- EU circle -->
<circle cx="219.85" cy="108.3" r="43.1" fill="#fff" stroke="#595959" stroke-width="1.5"/>
<text x="219.3" y="102.7" font-size="28.2" text-anchor="middle" fill="#595959">EU</text>
<text x="219.8" y="129.9" font-size="28.2" text-anchor="middle" fill="#595959">36.0</text>
<!-- logo -->
<path d="M626.7 568.5 L640.5 568.5 L610.8 604 L597 604Z" fill="url(#gy)"/>
<path d="M640.5 568.5 L655 585.9 L642 585.9 L634 576.4Z" fill="url(#gg)"/>
<path d="M672.5 550.3 L686 550.3 L655 585.9 L649 577.9Z" fill="url(#gb)"/>
<g class="lab">
<text x="111.1" y="130.8">36.3</text>
<text x="123.7" y="324.2">35.1</text>
<text x="280" y="223">33.7</text>
<text x="323.8" y="243">35.7</text>
<text x="282.6" y="294.2">33.9</text>
<text x="393.7" y="186">34.9</text>
<text x="403.5" y="236">36.5</text>
<text x="412.5" y="264">38.3</text>
<text x="399.5" y="286.8">38.3</text>
<text x="242" y="349.8">32.1</text>
<text x="230.6" y="369.4">34.5</text>
<text x="255.4" y="385.2">35.7</text>
<text x="286" y="364.2">33.9</text>
<text x="334.8" y="384.1">37.8</text>
<text x="329.5" y="412">33.9</text>
<text x="262.4" y="431">36.0</text>
<text x="328.4" y="437">38.0</text>
<text x="328" y="457">37.8</text>
<text x="208.4" y="421.8">35.8</text>
<text x="73.4" y="512.3">37.5</text>
<text x="132.1" y="510.8">36.4</text>
<text x="306.7" y="487.5">36.1</text>
<text x="357.3" y="580.8">37.5</text>
<text x="369.5" y="350">38.9</text>
<text x="379" y="392.3">37.9</text>
<text x="376.5" y="421">37.4</text>
<text x="434.8" y="431">38.8</text>
<text x="400.8" y="461">41.3</text>
<text x="450" y="471.5">39.0</text>
<text x="424" y="547.5">39.8</text>
<text x="575.6" y="497.8">43.1</text>
<text x="565" y="569.4">38.0</text>
<text x="563.3" y="180.7">37.5</text>
</g>

</svg>
<div id="title" class="t">Average number of actual weekly hours of work in the main job, 2024</div>
<div id="sub" class="t">(employed people aged 20 to 64)</div>
<div class="t" style="left:14px;top:138px;font-size:12.5px;line-height:14px;color:#404040;">Hours</div>
<div class="lg" style="top:154.5px;background:#17347f;"></div><div class="lt" style="top:154.5px;">≥ 39</div>
<div class="lg" style="top:168.3px;background:#51bbc0;"></div><div class="lt" style="top:168.3px;">37 – &lt; 39</div>
<div class="lg" style="top:182.1px;background:#a9deb6;"></div><div class="lt" style="top:182.1px;">35 – &lt; 37</div>
<div class="lg" style="top:195.9px;background:#fee794;"></div><div class="lt" style="top:195.9px;">&lt; 35</div>
<div class="lg" style="top:213.7px;background:#a9a9a9;"></div><div class="lt" style="top:213.7px;left:38.8px;">Data not available</div>
<!-- eurostat logo -->
<div class="t" style="left:13.5px;top:586.5px;font-size:18.6px;font-weight:bold;line-height:20px;color:#777984;letter-spacing:-0.4px;">eurostat</div>
<svg style="position:absolute;left:86px;top:591px;" width="18" height="12" viewBox="0 0 18 12"><rect width="17.3" height="11.7" fill="#0a3b9c"/><g fill="#f5c400"><circle cx="8.65" cy="2.2" r="0.55"/><circle cx="8.65" cy="9.5" r="0.55"/><circle cx="5" cy="5.85" r="0.55"/><circle cx="12.3" cy="5.85" r="0.55"/><circle cx="6.8" cy="2.7" r="0.55"/><circle cx="10.5" cy="2.7" r="0.55"/><circle cx="6.8" cy="9" r="0.55"/><circle cx="10.5" cy="9" r="0.55"/><circle cx="5.5" cy="4" r="0.55"/><circle cx="11.8" cy="4" r="0.55"/><circle cx="5.5" cy="7.7" r="0.55"/><circle cx="11.8" cy="7.7" r="0.55"/></g></svg>
<div class="foot" style="left:13.3px;top:617.5px;">Source: Eurostat (data code lfsa_ewhan2)</div>
<div class="foot" style="right:9.2px;top:606px;">Administrative boundaries: © EuroGeographics © OpenStreetMap</div>
<div class="foot" style="right:9.2px;top:617.5px;">Cartography: Eurostat – IMAGE, 05/2025</div>
</body></html>
